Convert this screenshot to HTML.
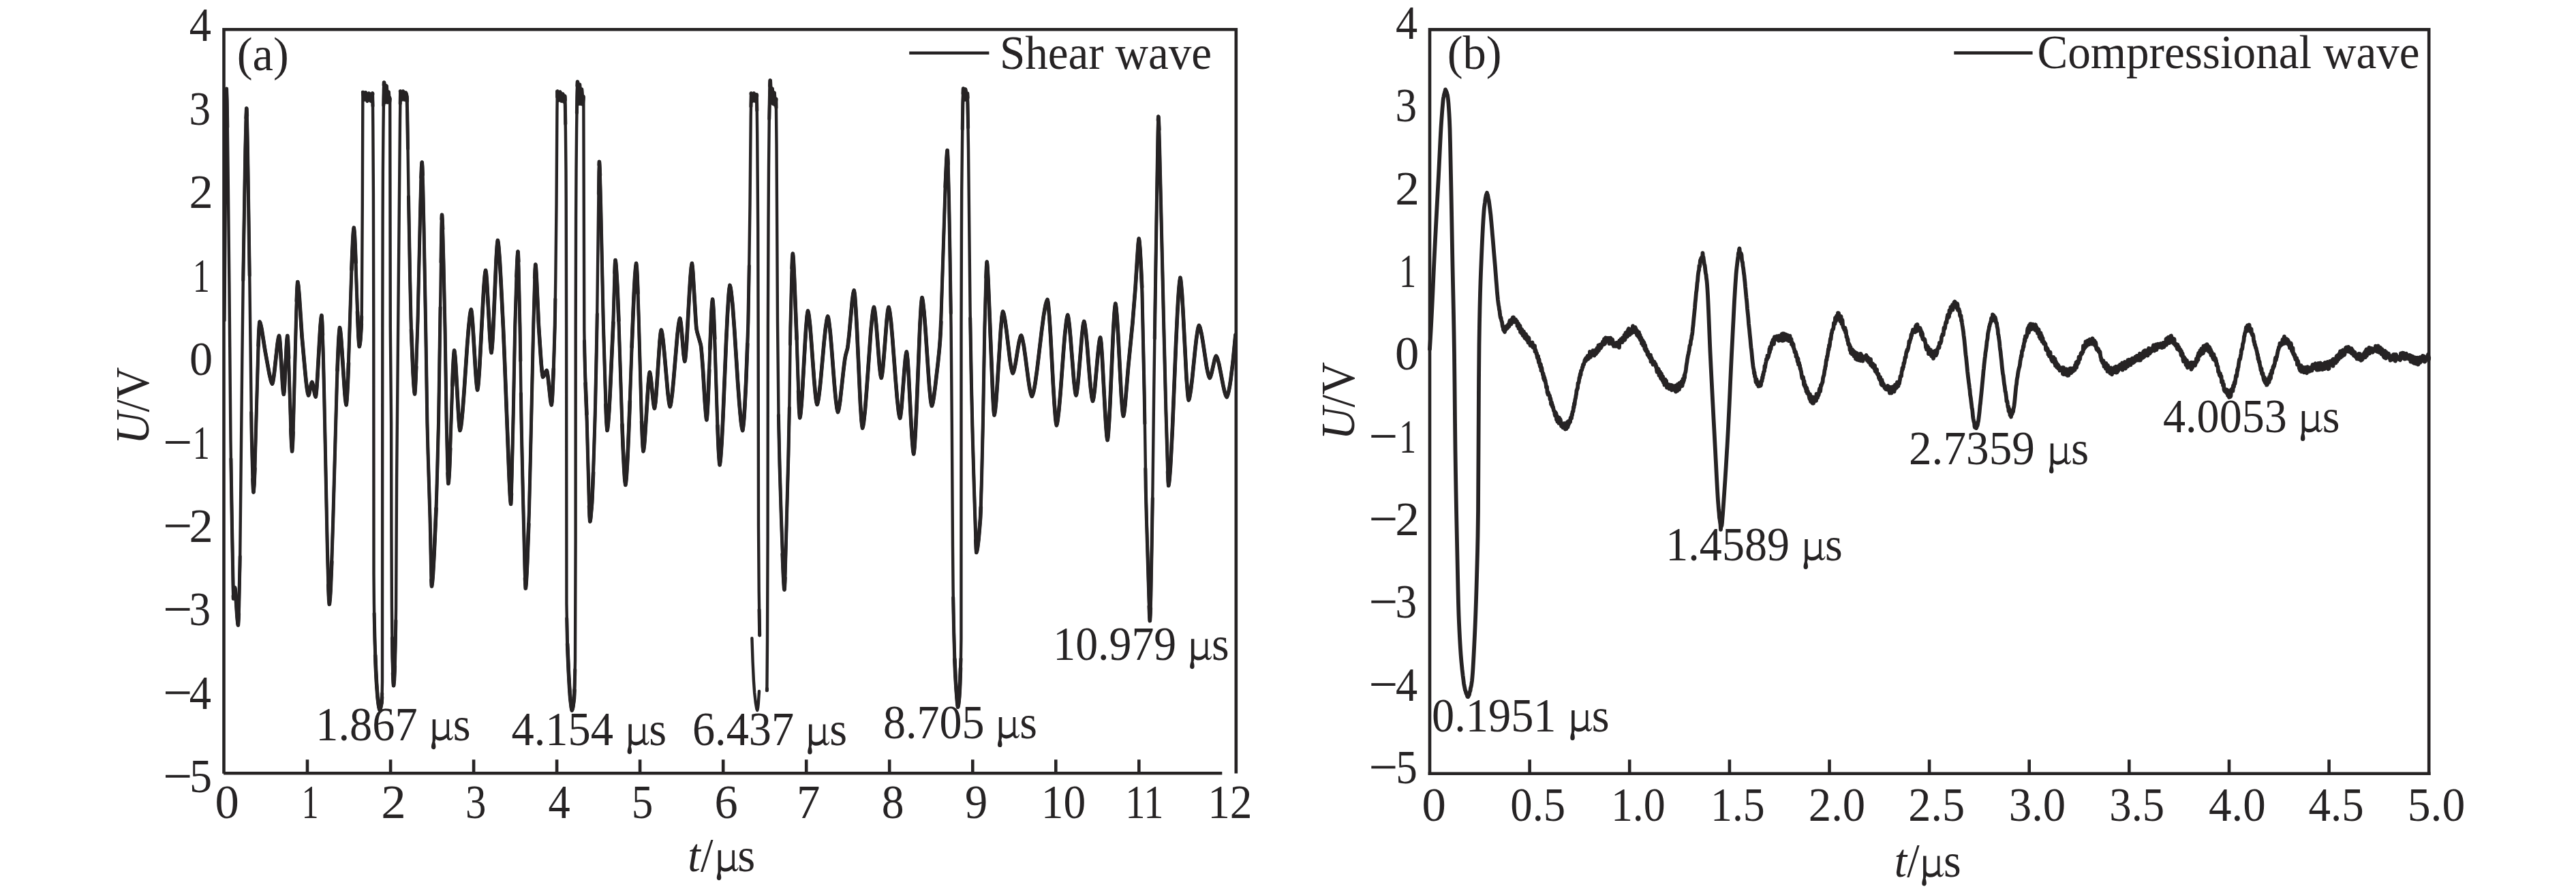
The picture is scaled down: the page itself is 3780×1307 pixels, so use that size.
<!DOCTYPE html>
<html><head><meta charset="utf-8"><title>Waveforms</title>
<style>
html,body{margin:0;padding:0;background:#fff;}
body{width:3780px;height:1307px;overflow:hidden;}
svg{display:block;}
text{font-family:"Liberation Serif",serif;font-size:70.5px;fill:#262324;}
.i{font-style:italic;}
.m{fill:none;}
.ax{stroke:#262324;stroke-width:4.6;fill:none;stroke-linecap:butt;}
.w{stroke:#262324;stroke-width:4.4;fill:none;stroke-linejoin:round;stroke-linecap:round;}
.w2{stroke:#262324;stroke-width:5.8;fill:none;stroke-linejoin:round;stroke-linecap:round;}
</style></head>
<body>
<svg width="3780" height="1307" viewBox="0 0 3780 1307">
<rect width="3780" height="1307" fill="#fff"/>

<path transform="translate(632.9 1085.7)" d="M1.8-30.5L6.3-30.5L6.3-9C6.3-6 8.8-4.4 12.5-4.4C16.5-4.4 20-6.4 22.5-9.4L22.5-30.5L26.1-30.5L26.1-6C26.1-3.6 26.9-2.6 28.2-2.6C29.4-2.6 30.4-3.6 31.2-5.6L32.1-5.2C31.2-1.6 29.3 .4 26.8 .4C24.6 .4 23.2-.9 22.7-3.6C19.8-.8 16.4 .8 12.8 .8C10 .8 7.8 0 6.3-1.6C6.3-.2 5.8 1.2 5.3 2.6C5.9 4.6 6.5 7.4 6.5 9.8C6.5 12.1 5.2 13.5 3.3 13.5C1.3 13.5 0 12.1 0 9.9C0 7.4 .9 4.6 1.5 2.6C1.8 1.2 1.8 0 1.8-2Z" fill="#262324"/>
<path transform="translate(920.6 1092.7)" d="M1.8-30.5L6.3-30.5L6.3-9C6.3-6 8.8-4.4 12.5-4.4C16.5-4.4 20-6.4 22.5-9.4L22.5-30.5L26.1-30.5L26.1-6C26.1-3.6 26.9-2.6 28.2-2.6C29.4-2.6 30.4-3.6 31.2-5.6L32.1-5.2C31.2-1.6 29.3 .4 26.8 .4C24.6 .4 23.2-.9 22.7-3.6C19.8-.8 16.4 .8 12.8 .8C10 .8 7.8 0 6.3-1.6C6.3-.2 5.8 1.2 5.3 2.6C5.9 4.6 6.5 7.4 6.5 9.8C6.5 12.1 5.2 13.5 3.3 13.5C1.3 13.5 0 12.1 0 9.9C0 7.4 .9 4.6 1.5 2.6C1.8 1.2 1.8 0 1.8-2Z" fill="#262324"/>
<path transform="translate(1185.2 1093.0)" d="M1.8-30.5L6.3-30.5L6.3-9C6.3-6 8.8-4.4 12.5-4.4C16.5-4.4 20-6.4 22.5-9.4L22.5-30.5L26.1-30.5L26.1-6C26.1-3.6 26.9-2.6 28.2-2.6C29.4-2.6 30.4-3.6 31.2-5.6L32.1-5.2C31.2-1.6 29.3 .4 26.8 .4C24.6 .4 23.2-.9 22.7-3.6C19.8-.8 16.4 .8 12.8 .8C10 .8 7.8 0 6.3-1.6C6.3-.2 5.8 1.2 5.3 2.6C5.9 4.6 6.5 7.4 6.5 9.8C6.5 12.1 5.2 13.5 3.3 13.5C1.3 13.5 0 12.1 0 9.9C0 7.4 .9 4.6 1.5 2.6C1.8 1.2 1.8 0 1.8-2Z" fill="#262324"/>
<path transform="translate(1464.0 1082.6)" d="M1.8-30.5L6.3-30.5L6.3-9C6.3-6 8.8-4.4 12.5-4.4C16.5-4.4 20-6.4 22.5-9.4L22.5-30.5L26.1-30.5L26.1-6C26.1-3.6 26.9-2.6 28.2-2.6C29.4-2.6 30.4-3.6 31.2-5.6L32.1-5.2C31.2-1.6 29.3 .4 26.8 .4C24.6 .4 23.2-.9 22.7-3.6C19.8-.8 16.4 .8 12.8 .8C10 .8 7.8 0 6.3-1.6C6.3-.2 5.8 1.2 5.3 2.6C5.9 4.6 6.5 7.4 6.5 9.8C6.5 12.1 5.2 13.5 3.3 13.5C1.3 13.5 0 12.1 0 9.9C0 7.4 .9 4.6 1.5 2.6C1.8 1.2 1.8 0 1.8-2Z" fill="#262324"/>
<path transform="translate(1746.1 967.8)" d="M1.8-30.5L6.3-30.5L6.3-9C6.3-6 8.8-4.4 12.5-4.4C16.5-4.4 20-6.4 22.5-9.4L22.5-30.5L26.1-30.5L26.1-6C26.1-3.6 26.9-2.6 28.2-2.6C29.4-2.6 30.4-3.6 31.2-5.6L32.1-5.2C31.2-1.6 29.3 .4 26.8 .4C24.6 .4 23.2-.9 22.7-3.6C19.8-.8 16.4 .8 12.8 .8C10 .8 7.8 0 6.3-1.6C6.3-.2 5.8 1.2 5.3 2.6C5.9 4.6 6.5 7.4 6.5 9.8C6.5 12.1 5.2 13.5 3.3 13.5C1.3 13.5 0 12.1 0 9.9C0 7.4 .9 4.6 1.5 2.6C1.8 1.2 1.8 0 1.8-2Z" fill="#262324"/>
<path transform="translate(2304.3 1072.5)" d="M1.8-30.5L6.3-30.5L6.3-9C6.3-6 8.8-4.4 12.5-4.4C16.5-4.4 20-6.4 22.5-9.4L22.5-30.5L26.1-30.5L26.1-6C26.1-3.6 26.9-2.6 28.2-2.6C29.4-2.6 30.4-3.6 31.2-5.6L32.1-5.2C31.2-1.6 29.3 .4 26.8 .4C24.6 .4 23.2-.9 22.7-3.6C19.8-.8 16.4 .8 12.8 .8C10 .8 7.8 0 6.3-1.6C6.3-.2 5.8 1.2 5.3 2.6C5.9 4.6 6.5 7.4 6.5 9.8C6.5 12.1 5.2 13.5 3.3 13.5C1.3 13.5 0 12.1 0 9.9C0 7.4 .9 4.6 1.5 2.6C1.8 1.2 1.8 0 1.8-2Z" fill="#262324"/>
<path transform="translate(2646.5 821.5)" d="M1.8-30.5L6.3-30.5L6.3-9C6.3-6 8.8-4.4 12.5-4.4C16.5-4.4 20-6.4 22.5-9.4L22.5-30.5L26.1-30.5L26.1-6C26.1-3.6 26.9-2.6 28.2-2.6C29.4-2.6 30.4-3.6 31.2-5.6L32.1-5.2C31.2-1.6 29.3 .4 26.8 .4C24.6 .4 23.2-.9 22.7-3.6C19.8-.8 16.4 .8 12.8 .8C10 .8 7.8 0 6.3-1.6C6.3-.2 5.8 1.2 5.3 2.6C5.9 4.6 6.5 7.4 6.5 9.8C6.5 12.1 5.2 13.5 3.3 13.5C1.3 13.5 0 12.1 0 9.9C0 7.4 .9 4.6 1.5 2.6C1.8 1.2 1.8 0 1.8-2Z" fill="#262324"/>
<path transform="translate(3007.0 680.9)" d="M1.8-30.5L6.3-30.5L6.3-9C6.3-6 8.8-4.4 12.5-4.4C16.5-4.4 20-6.4 22.5-9.4L22.5-30.5L26.1-30.5L26.1-6C26.1-3.6 26.9-2.6 28.2-2.6C29.4-2.6 30.4-3.6 31.2-5.6L32.1-5.2C31.2-1.6 29.3 .4 26.8 .4C24.6 .4 23.2-.9 22.7-3.6C19.8-.8 16.4 .8 12.8 .8C10 .8 7.8 0 6.3-1.6C6.3-.2 5.8 1.2 5.3 2.6C5.9 4.6 6.5 7.4 6.5 9.8C6.5 12.1 5.2 13.5 3.3 13.5C1.3 13.5 0 12.1 0 9.9C0 7.4 .9 4.6 1.5 2.6C1.8 1.2 1.8 0 1.8-2Z" fill="#262324"/>
<path transform="translate(3375.9 633.5)" d="M1.8-30.5L6.3-30.5L6.3-9C6.3-6 8.8-4.4 12.5-4.4C16.5-4.4 20-6.4 22.5-9.4L22.5-30.5L26.1-30.5L26.1-6C26.1-3.6 26.9-2.6 28.2-2.6C29.4-2.6 30.4-3.6 31.2-5.6L32.1-5.2C31.2-1.6 29.3 .4 26.8 .4C24.6 .4 23.2-.9 22.7-3.6C19.8-.8 16.4 .8 12.8 .8C10 .8 7.8 0 6.3-1.6C6.3-.2 5.8 1.2 5.3 2.6C5.9 4.6 6.5 7.4 6.5 9.8C6.5 12.1 5.2 13.5 3.3 13.5C1.3 13.5 0 12.1 0 9.9C0 7.4 .9 4.6 1.5 2.6C1.8 1.2 1.8 0 1.8-2Z" fill="#262324"/>
<path transform="translate(1051.8 1277.8)" d="M1.8-30.5L6.3-30.5L6.3-9C6.3-6 8.8-4.4 12.5-4.4C16.5-4.4 20-6.4 22.5-9.4L22.5-30.5L26.1-30.5L26.1-6C26.1-3.6 26.9-2.6 28.2-2.6C29.4-2.6 30.4-3.6 31.2-5.6L32.1-5.2C31.2-1.6 29.3 .4 26.8 .4C24.6 .4 23.2-.9 22.7-3.6C19.8-.8 16.4 .8 12.8 .8C10 .8 7.8 0 6.3-1.6C6.3-.2 5.8 1.2 5.3 2.6C5.9 4.6 6.5 7.4 6.5 9.8C6.5 12.1 5.2 13.5 3.3 13.5C1.3 13.5 0 12.1 0 9.9C0 7.4 .9 4.6 1.5 2.6C1.8 1.2 1.8 0 1.8-2Z" fill="#262324"/>
<path transform="translate(2820.3 1286.0)" d="M1.8-30.5L6.3-30.5L6.3-9C6.3-6 8.8-4.4 12.5-4.4C16.5-4.4 20-6.4 22.5-9.4L22.5-30.5L26.1-30.5L26.1-6C26.1-3.6 26.9-2.6 28.2-2.6C29.4-2.6 30.4-3.6 31.2-5.6L32.1-5.2C31.2-1.6 29.3 .4 26.8 .4C24.6 .4 23.2-.9 22.7-3.6C19.8-.8 16.4 .8 12.8 .8C10 .8 7.8 0 6.3-1.6C6.3-.2 5.8 1.2 5.3 2.6C5.9 4.6 6.5 7.4 6.5 9.8C6.5 12.1 5.2 13.5 3.3 13.5C1.3 13.5 0 12.1 0 9.9C0 7.4 .9 4.6 1.5 2.6C1.8 1.2 1.8 0 1.8-2Z" fill="#262324"/>
<g id="left">
<path class="ax" d="M328.5 1134.7V43.3H1813.8V1134.6"/>
<path class="ax" d="M328.1 1134.3H1793.3"/>
<path class="ax" d="M451.0 1114.2V1134M573.1 1114.2V1134M695.1 1114.2V1134M817.1 1114.2V1134M939.1 1114.2V1134M1061.2 1114.2V1134M1183.2 1114.2V1134M1305.2 1114.2V1134M1427.3 1114.2V1134M1549.3 1114.2V1134M1671.3 1114.2V1134"/>
<path class="ax" d="M1334.2 77.8H1451.4"/>
<rect x="243" y="647.0" width="35.5" height="3.9" fill="#262324"/>
<rect x="2012.3" y="638.1" width="35.2" height="3.9" fill="#262324"/>
<rect x="243" y="769.5" width="35.5" height="3.9" fill="#262324"/>
<rect x="2012.3" y="759.4" width="35.2" height="3.9" fill="#262324"/>
<rect x="243" y="891.9" width="35.5" height="3.9" fill="#262324"/>
<rect x="2012.3" y="880.8" width="35.2" height="3.9" fill="#262324"/>
<rect x="243" y="1014.3" width="35.5" height="3.9" fill="#262324"/>
<rect x="2012.3" y="1002.1" width="35.2" height="3.9" fill="#262324"/>
<rect x="243" y="1136.8" width="35.5" height="3.9" fill="#262324"/>
<rect x="2012.3" y="1123.5" width="35.2" height="3.9" fill="#262324"/>
<text transform="translate(218.2 652) rotate(-90)" textLength="113.5" lengthAdjust="spacingAndGlyphs"><tspan class="i">U</tspan>/V</text>
<text transform="translate(1987.3 645.5) rotate(-90)" textLength="114.5" lengthAdjust="spacingAndGlyphs"><tspan class="i">U</tspan>/V</text>
<text id="a" x="347.71" y="103.2" textLength="76.08" lengthAdjust="spacingAndGlyphs">(a)</text>
<text id="shear" x="1466.89" y="100.6" textLength="311.15" lengthAdjust="spacingAndGlyphs">Shear wave</text>
<text id="t1" x="463.28" y="1085.7" textLength="227.29" lengthAdjust="spacingAndGlyphs">1.867 <tspan class="m">μ</tspan>s</text>
<text id="t2" x="750.48" y="1092.7" textLength="227.55" lengthAdjust="spacingAndGlyphs">4.154 <tspan class="m">μ</tspan>s</text>
<text id="t3" x="1015.94" y="1093.0" textLength="227.10" lengthAdjust="spacingAndGlyphs">6.437 <tspan class="m">μ</tspan>s</text>
<text id="t4" x="1295.94" y="1082.6" textLength="226.10" lengthAdjust="spacingAndGlyphs">8.705 <tspan class="m">μ</tspan>s</text>
<text id="t5" x="1545.31" y="967.8" textLength="258.30" lengthAdjust="spacingAndGlyphs">10.979 <tspan class="m">μ</tspan>s</text>
<text id="b" x="2123.73" y="101.3" textLength="80.00" lengthAdjust="spacingAndGlyphs">(b)</text>
<text id="compr" x="2989.47" y="99.8" textLength="561.09" lengthAdjust="spacingAndGlyphs">Compressional wave</text>
<text id="r1" x="2100.96" y="1072.5" textLength="260.62" lengthAdjust="spacingAndGlyphs">0.1951 <tspan class="m">μ</tspan>s</text>
<text id="r2" x="2444.33" y="821.5" textLength="259.29" lengthAdjust="spacingAndGlyphs">1.4589 <tspan class="m">μ</tspan>s</text>
<text id="r3" x="2800.94" y="680.9" textLength="264.13" lengthAdjust="spacingAndGlyphs">2.7359 <tspan class="m">μ</tspan>s</text>
<text id="r4" x="3173.99" y="633.5" textLength="259.57" lengthAdjust="spacingAndGlyphs">4.0053 <tspan class="m">μ</tspan>s</text>
<text id="tl" x="1009.36" y="1277.8" textLength="98.76" lengthAdjust="spacingAndGlyphs"><tspan class="i">t</tspan>/<tspan class="m">μ</tspan>s</text>
<text id="tr" x="2779.85" y="1286.0" textLength="97.82" lengthAdjust="spacingAndGlyphs"><tspan class="i">t</tspan>/<tspan class="m">μ</tspan>s</text>
<text id="xl0" x="315.58" y="1199.5" textLength="35.37" lengthAdjust="spacingAndGlyphs">0</text>
<text id="xl1" x="442.79" y="1199.5" textLength="24.79" lengthAdjust="spacingAndGlyphs">1</text>
<text id="xl2" x="559.37" y="1199.5" textLength="36.54" lengthAdjust="spacingAndGlyphs">2</text>
<text id="xl3" x="683.06" y="1199.5" textLength="30.38" lengthAdjust="spacingAndGlyphs">3</text>
<text id="xl4" x="804.38" y="1199.5" textLength="32.20" lengthAdjust="spacingAndGlyphs">4</text>
<text id="xl5" x="926.87" y="1199.5" textLength="31.55" lengthAdjust="spacingAndGlyphs">5</text>
<text id="xl6" x="1048.61" y="1199.5" textLength="34.18" lengthAdjust="spacingAndGlyphs">6</text>
<text id="xl7" x="1169.07" y="1199.5" textLength="34.34" lengthAdjust="spacingAndGlyphs">7</text>
<text id="xl8" x="1293.82" y="1199.5" textLength="32.85" lengthAdjust="spacingAndGlyphs">8</text>
<text id="xl9" x="1416.12" y="1199.5" textLength="33.22" lengthAdjust="spacingAndGlyphs">9</text>
<text id="xl10" x="1527.80" y="1199.5" textLength="65.55" lengthAdjust="spacingAndGlyphs">10</text>
<text id="xl11" x="1651.22" y="1199.5" textLength="56.40" lengthAdjust="spacingAndGlyphs">11</text>
<text id="xl12" x="1772.19" y="1199.5" textLength="65.34" lengthAdjust="spacingAndGlyphs">12</text>
<text id="xr0" x="2086.49" y="1204.0" textLength="35.39" lengthAdjust="spacingAndGlyphs">0</text>
<text id="xr1" x="2216.32" y="1204.0" textLength="80.86" lengthAdjust="spacingAndGlyphs">0.5</text>
<text id="xr2" x="2363.89" y="1204.0" textLength="79.92" lengthAdjust="spacingAndGlyphs">1.0</text>
<text id="xr3" x="2509.97" y="1204.0" textLength="79.78" lengthAdjust="spacingAndGlyphs">1.5</text>
<text id="xr4" x="2653.77" y="1204.0" textLength="83.45" lengthAdjust="spacingAndGlyphs">2.0</text>
<text id="xr5" x="2800.28" y="1204.0" textLength="82.91" lengthAdjust="spacingAndGlyphs">2.5</text>
<text id="xr6" x="2947.75" y="1204.0" textLength="83.46" lengthAdjust="spacingAndGlyphs">3.0</text>
<text id="xr7" x="3095.31" y="1204.0" textLength="80.87" lengthAdjust="spacingAndGlyphs">3.5</text>
<text id="xr8" x="3240.95" y="1204.0" textLength="83.71" lengthAdjust="spacingAndGlyphs">4.0</text>
<text id="xr9" x="3387.44" y="1204.0" textLength="81.19" lengthAdjust="spacingAndGlyphs">4.5</text>
<text id="xr10" x="3532.64" y="1204.0" textLength="84.62" lengthAdjust="spacingAndGlyphs">5.0</text>
<text id="yl4" x="277.85" y="60.2" textLength="32.23" lengthAdjust="spacingAndGlyphs">4</text>
<text id="yr4" x="2047.92" y="56.8" textLength="32.11" lengthAdjust="spacingAndGlyphs">4</text>
<text id="yl3" x="277.49" y="182.7" textLength="31.55" lengthAdjust="spacingAndGlyphs">3</text>
<text id="yr3" x="2047.39" y="178.1" textLength="31.55" lengthAdjust="spacingAndGlyphs">3</text>
<text id="yl2" x="277.38" y="305.1" textLength="35.28" lengthAdjust="spacingAndGlyphs">2</text>
<text id="yr2" x="2047.22" y="299.5" textLength="35.65" lengthAdjust="spacingAndGlyphs">2</text>
<text id="yl1" x="283.05" y="427.6" textLength="24.79" lengthAdjust="spacingAndGlyphs">1</text>
<text id="yr1" x="2053.33" y="420.8" textLength="24.79" lengthAdjust="spacingAndGlyphs">1</text>
<text id="yl0" x="278.08" y="550.0" textLength="34.19" lengthAdjust="spacingAndGlyphs">0</text>
<text id="yr0" x="2047.09" y="542.2" textLength="35.37" lengthAdjust="spacingAndGlyphs">0</text>
<text id="yl-1" x="283.05" y="672.5" textLength="24.79" lengthAdjust="spacingAndGlyphs">1</text>
<text id="yr-1" x="2053.33" y="663.5" textLength="24.79" lengthAdjust="spacingAndGlyphs">1</text>
<text id="yl-2" x="277.38" y="794.9" textLength="35.28" lengthAdjust="spacingAndGlyphs">2</text>
<text id="yr-2" x="2047.22" y="784.9" textLength="35.65" lengthAdjust="spacingAndGlyphs">2</text>
<text id="yl-3" x="277.49" y="917.4" textLength="31.55" lengthAdjust="spacingAndGlyphs">3</text>
<text id="yr-3" x="2047.39" y="906.2" textLength="31.55" lengthAdjust="spacingAndGlyphs">3</text>
<text id="yl-4" x="277.85" y="1039.8" textLength="32.23" lengthAdjust="spacingAndGlyphs">4</text>
<text id="yr-4" x="2047.92" y="1027.6" textLength="32.11" lengthAdjust="spacingAndGlyphs">4</text>
<text id="yl-5" x="277.95" y="1162.2" textLength="33.12" lengthAdjust="spacingAndGlyphs">5</text>
<text id="yr-5" x="2048.31" y="1148.9" textLength="31.55" lengthAdjust="spacingAndGlyphs">5</text>
<path class="w" style="stroke-width:4.4" d="M329.5 470.0L331.3 216.7L332.1 150.5L332.5 132.0L332.6 130.0L332.7 132.6L333.6 170.6L334.6 250.1L336.4 415.6L338.5 647.0L339.9 739.3L342.2 867.2L342.6 878.0L343.1 875.4L344.3 863.0L344.6 862.0L345.0 863.9L346.0 874.0L348.4 909.3L349.0 915.5L349.4 917.0L349.5 916.2L350.0 907.6L350.6 890.8L352.1 828.4L355.3 528.0L356.9 400.1L359.9 218.3L360.9 177.8L361.8 159.0L362.3 168.4L362.8 186.0L364.0 250.5L366.4 415.7L369.2 637.7L370.8 699.6L371.5 715.1L372.0 722.0L372.9 711.4L373.9 688.5L378.8 515.4L379.9 485.6L380.5 476.8L381.0 472.0L381.7 473.2L382.4 475.2L383.9 482.1L389.1 515.0L395.6 550.6L397.7 559.2L398.6 561.7L399.5 563.0L400.1 561.7L400.7 559.1L402.0 550.7L406.1 512.7L407.5 501.9L408.6 495.3L409.2 493.3L409.6 492.6L410.4 497.4L411.3 507.6L414.9 566.9L415.6 574.8L416.3 578.5L416.9 574.8L417.5 567.0L420.4 507.3L421.2 497.1L421.8 492.5L422.5 499.7L423.2 515.3L426.9 632.3L427.8 652.8L428.6 662.0L429.4 651.1L430.3 628.4L434.8 456.7L435.8 426.9L436.3 418.1L436.8 413.5L437.7 418.3L438.7 428.4L443.1 494.3L447.9 547.3L449.3 560.6L450.5 570.3L451.6 576.7L452.6 580.0L453.1 579.2L453.7 577.4L456.5 563.9L457.2 561.6L457.8 560.5L458.4 561.6L459.1 564.1L461.5 576.4L462.4 580.2L463.2 582.0L463.7 580.0L464.6 572.0L465.6 558.0L469.9 480.4L471.0 468.4L471.4 464.7L471.9 462.7L472.5 469.2L473.0 480.7L474.3 519.3L475.8 583.6L480.5 812.7L482.0 863.6L482.6 878.3L483.3 886.5L484.1 879.6L484.9 867.6L486.7 826.3L488.7 764.5L494.3 563.0L496.1 515.1L497.7 487.6L498.5 480.5L499.2 483.7L500.0 490.0L501.6 509.5L505.9 577.2L507.4 590.8L508.1 594.0L508.4 592.5L509.0 586.3L509.6 576.5L511.0 545.4L515.4 410.2L516.9 370.6L518.1 345.6L518.7 338.1L519.3 334.0L519.8 337.3L520.2 343.1L521.3 363.6L524.7 462.0L525.9 491.8L526.6 502.4L527.2 508.1L527.3 508.5L527.6 507.5L528.2 504.2L529.1 495.2L530.0 481.7L530.6 470.0L530.8 457.6L531.8 300.0L532.4 135.0L532.8 136.5L534.0 144.1L534.5 146.0L535.0 144.3L536.1 137.1L536.4 136.1L536.5 136.0L536.6 136.2L537.2 138.4L538.4 146.2L539.0 148.0L539.5 146.5L540.8 139.1L541.4 137.1L541.7 137.3L542.0 138.4L543.4 146.1L544.0 148.0L544.5 146.6L546.0 138.9L546.6 137.0L547.0 152.9L547.3 185.4L547.9 283.2L548.3 480.0L548.5 842.0L548.9 886.1L549.3 912.9L550.1 945.3L551.1 972.2L552.2 996.3L553.4 1015.0L554.6 1028.4L556.0 1037.7L556.6 1040.2L557.1 1041.3L557.8 1040.3L558.6 1038.2L560.0 1031.0L560.6 1020.0L561.0 1000.0L561.3 480.0L561.6 323.0L561.9 250.0L562.4 194.6L563.0 144.1L563.6 121.0L564.0 124.9L564.9 145.0L565.3 150.0L565.7 146.8L566.6 130.1L567.0 126.0L567.3 129.3L568.2 145.8L568.6 150.0L570.1 135.0L571.3 149.9L572.2 143.0L572.8 480.0L574.1 620.0L574.4 780.0L574.9 888.2L575.3 928.3L575.9 964.6L576.9 994.6L577.6 1005.8L578.0 1002.9L578.5 995.9L579.5 972.7L580.4 937.0L581.1 891.9L582.1 701.9L587.0 176.2L587.6 134.0L588.0 135.6L589.0 143.9L589.5 146.0L589.9 144.4L591.0 136.1L591.5 134.0L591.9 135.7L593.0 143.8L593.5 145.9L593.9 144.8L594.9 137.7L595.3 136.0L595.8 136.8L596.3 138.7L597.0 142.0L597.1 143.5L598.0 185.0L600.2 330.8L602.9 466.8L604.3 505.6L606.1 547.1L607.4 568.2L608.0 574.5L608.6 578.0L609.3 570.2L610.2 553.1L613.0 471.0L616.7 307.8L617.8 265.5L618.9 241.4L619.2 238.0L619.5 242.0L620.7 272.4L622.0 332.2L624.8 486.8L626.9 620.0L628.1 666.0L631.0 759.3L632.7 839.4L633.1 853.4L633.5 860.0L634.3 855.0L635.2 845.1L637.2 809.7L639.7 755.3L641.8 690.1L643.7 607.3L647.5 356.5L648.0 327.6L648.5 315.0L649.0 321.7L649.6 334.0L650.8 377.2L653.1 485.3L655.2 620.0L656.8 686.9L657.4 702.4L657.9 709.5L658.8 701.1L659.8 682.8L664.4 548.3L665.5 525.2L666.1 518.2L666.6 514.2L666.9 515.3L667.4 518.6L668.4 529.6L672.9 610.9L674.0 625.0L674.5 629.3L675.0 631.5L675.8 628.7L676.7 623.8L678.5 607.5L680.6 580.5L685.2 512.1L687.2 485.1L689.4 463.8L690.3 457.5L691.3 454.1L691.7 455.4L692.2 458.6L693.2 469.5L694.5 487.6L698.3 551.4L699.5 565.6L700.1 569.7L700.6 572.0L701.2 569.2L701.8 564.4L703.1 548.4L704.7 521.7L709.6 426.9L711.2 405.9L711.9 399.8L712.6 396.5L713.1 398.8L713.6 403.1L714.7 417.3L718.3 484.2L719.5 503.9L720.2 511.5L720.8 516.1L721.1 517.5L721.5 515.1L722.5 504.2L723.6 484.7L728.3 376.7L729.4 360.3L729.9 355.2L730.4 352.5L731.1 356.1L731.8 362.3L733.4 383.0L734.9 410.8L738.4 480.0L740.4 526.3L747.5 707.4L748.6 729.6L749.1 736.1L749.6 739.5L750.4 725.7L751.3 692.4L753.2 607.1L755.7 480.0L758.3 397.1L759.2 377.8L760.0 369.0L760.6 378.0L761.2 396.5L763.0 480.0L765.0 615.4L766.5 685.3L770.1 833.9L770.7 854.2L771.3 863.0L772.2 854.4L773.3 835.3L776.4 751.0L779.6 620.0L782.5 486.2L784.5 415.3L785.5 390.4L785.8 388.0L786.0 388.9L786.8 398.4L790.4 477.4L793.7 526.3L795.4 546.1L796.0 550.6L796.6 553.0L797.2 552.5L798.0 551.4L800.4 546.0L801.3 544.3L802.2 543.5L802.6 544.6L803.4 548.0L804.2 554.0L807.8 586.9L808.7 592.4L809.3 593.9L809.4 593.5L810.0 588.8L810.5 581.2L811.7 556.0L813.3 511.3L814.4 468.8L815.3 408.1L816.5 300.0L817.4 164.9L817.8 134.0L818.2 135.7L819.3 144.7L819.8 147.0L820.2 145.4L821.3 137.1L821.8 135.0L822.2 136.7L823.3 145.7L823.8 148.0L824.2 146.6L825.3 139.9L825.8 138.0L826.1 139.4L827.1 147.1L827.5 149.0L828.8 141.0L829.3 157.1L829.9 192.5L830.5 250.0L830.7 290.4L831.1 480.0L831.4 885.8L832.4 938.2L834.7 991.6L835.7 1010.7L836.8 1025.0L838.3 1037.6L838.8 1040.6L839.3 1042.0L840.0 1040.3L840.8 1036.9L842.4 1024.7L843.3 1003.7L844.0 968.0L844.6 792.2L844.7 480.0L845.1 320.9L845.5 250.0L846.1 189.0L846.8 141.5L847.5 120.0L849.0 152.0L850.5 124.0L852.0 152.0L853.5 131.0L855.0 152.9L855.3 151.5L856.3 141.0L857.3 484.0L857.9 521.1L858.7 550.5L861.2 618.0L864.5 739.1L865.2 756.6L865.8 765.0L866.6 761.4L867.5 752.7L868.5 740.0L869.3 725.7L871.0 679.4L873.3 605.7L876.0 477.6L878.4 284.4L878.9 252.1L879.4 237.3L880.3 252.4L881.3 285.0L885.4 477.2L888.7 588.1L889.7 612.5L890.5 627.0L891.0 631.5L891.7 628.0L892.3 622.1L893.6 605.2L895.1 579.7L899.7 478.5L902.0 400.5L902.5 387.5L903.0 381.5L903.7 386.7L904.5 395.8L906.1 425.7L908.1 476.1L912.3 604.1L914.1 654.2L916.1 693.7L916.9 705.1L917.8 711.5L918.6 706.4L919.4 697.5L921.1 667.8L923.2 618.3L927.7 492.3L929.7 443.0L931.7 403.9L932.7 392.4L933.6 386.3L934.1 390.7L934.7 398.3L935.8 423.4L937.2 465.0L941.4 614.3L942.8 647.1L943.4 656.7L944.0 662.0L944.5 660.0L945.0 656.3L946.2 644.0L950.7 571.2L951.7 557.8L952.7 549.5L953.4 546.0L953.9 547.4L954.4 550.1L955.6 559.3L958.9 591.4L959.9 597.8L960.4 599.0L960.7 598.2L961.8 591.1L963.0 577.3L966.9 517.6L968.1 500.2L969.3 489.2L969.8 485.8L970.3 484.0L970.9 485.8L971.6 488.8L973.0 499.1L974.7 516.2L980.0 576.9L981.7 590.4L982.5 594.4L983.2 596.5L984.0 594.3L984.7 590.6L986.4 577.9L988.3 558.4L993.9 491.7L995.7 476.3L996.6 471.3L997.3 468.1L997.8 467.0L998.0 467.5L999.0 473.3L1000.1 483.7L1003.2 520.6L1004.3 528.2L1004.8 530.0L1005.0 529.3L1005.6 526.1L1006.2 520.7L1007.5 503.5L1011.7 428.2L1013.1 406.4L1014.3 392.7L1014.9 388.6L1015.4 386.3L1016.0 390.3L1016.8 399.5L1020.8 467.2L1021.7 479.6L1022.0 482.3L1023.0 487.4L1027.9 504.2L1028.5 507.0L1029.0 510.6L1030.0 521.9L1031.6 543.7L1034.3 589.3L1035.9 609.5L1036.4 614.0L1036.9 616.0L1037.4 612.6L1037.9 606.5L1039.1 585.4L1042.7 488.5L1043.9 460.4L1045.0 443.0L1045.6 439.0L1045.9 440.6L1046.4 446.4L1047.0 455.6L1048.3 484.5L1052.4 610.7L1053.8 647.5L1055.0 671.0L1055.6 678.0L1056.1 682.0L1056.8 677.9L1057.6 670.7L1059.2 646.7L1061.2 606.7L1065.4 504.2L1067.3 464.0L1069.3 432.5L1070.1 423.5L1071.0 418.4L1072.1 422.4L1073.2 429.8L1074.3 440.4L1075.6 454.8L1077.9 486.9L1083.6 574.4L1085.1 594.9L1086.4 610.3L1088.1 624.2L1088.9 628.6L1089.6 631.3L1089.7 631.4L1090.2 628.9L1091.0 622.2L1092.6 601.5L1094.3 569.7L1096.2 522.8L1097.9 473.5L1098.9 415.7L1100.5 300.0L1101.7 171.7L1102.3 137.9L1102.3 137.0L1102.6 138.1L1103.7 146.2L1104.2 148.0L1104.6 146.5L1105.7 138.9L1106.2 137.0L1106.6 138.5L1107.7 146.1L1108.2 148.0L1108.6 146.8L1109.8 140.6L1110.3 139.0L1110.7 158.2L1111.2 198.0L1112.2 333.6L1112.6 480.0L1113.0 771.2L1113.7 867.2L1114.7 932.0"/>
<path class="w" style="stroke-width:5.0" d="M331.8 165.8L332.6 130.0L333.2 147.8L333.8 186.7M338.9 672.9L340.5 773.3L342.2 864.3L342.6 877.8L343.1 875.5L344.3 863.1L344.6 862.0L344.9 863.3L345.9 873.4L348.3 908.6L348.9 914.4L349.4 917.0L350.0 908.1L350.7 888.0L352.2 816.1M356.8 411.3L359.9 220.3L360.9 178.4L361.8 159.0L362.5 176.6L363.4 215.5L366.2 404.2M368.7 604.8L369.4 647.0L370.4 685.0L371.3 710.9L372.0 722.0L372.9 711.4L373.9 688.5L378.8 515.4L379.9 485.6L380.5 476.8L381.0 472.0L381.7 473.2L382.4 475.2L383.9 482.1L389.1 515.0L395.6 550.6L397.7 559.2L398.6 561.7L399.5 563.0L400.1 561.7L400.7 559.1L402.0 550.7L406.1 512.7L407.5 501.9L408.6 495.3L409.2 493.3L409.6 492.6L410.4 497.4L411.3 507.6L414.9 566.9L415.6 574.8L416.3 578.5L416.9 574.8L417.5 567.0L420.4 507.3L421.2 497.1L421.8 492.5L422.5 499.7L423.2 515.3L426.9 632.3L427.8 652.8L428.6 662.0L429.4 651.1L430.3 628.4L434.8 456.7L435.8 426.9L436.3 418.1L436.8 413.5L437.7 418.3L438.7 428.4L443.1 494.3L447.9 547.3L449.3 560.6L450.5 570.3L451.6 576.7L452.6 580.0L453.1 579.2L453.7 577.4L456.5 563.9L457.2 561.6L457.8 560.5L458.4 561.6L459.1 564.1L461.5 576.4L462.4 580.2L463.2 582.0L463.7 580.0L464.6 572.0L465.6 558.0L469.9 480.4L471.0 468.4L471.4 464.7L471.9 462.7L472.5 469.2L473.0 480.7L474.3 519.3L475.8 583.6L480.5 812.7L482.0 863.6L482.6 878.3L483.3 886.5L484.1 879.9L484.9 867.9L486.6 828.5L488.6 767.3L494.5 557.5L496.4 509.0L497.2 493.6L498.1 483.7L498.5 480.5L498.8 481.4L499.5 485.3L500.2 492.1L501.6 510.7L505.9 576.9L507.3 590.6L508.1 594.0L508.3 592.6L509.0 586.5L509.6 576.8L511.0 545.9L515.4 410.2L516.9 370.6L518.1 345.6L518.7 338.1L519.3 334.0L520.2 342.5L521.1 360.8L525.0 471.0L525.9 491.5L526.7 503.9L527.3 508.5L528.0 505.5L528.7 499.9L530.0 481.7L530.6 470.0L530.7 464.0M532.5 135.3L534.0 144.3L534.5 146.0L535.0 144.3L536.1 137.1L536.4 136.1L536.5 136.0L536.6 136.2L537.2 138.4L538.4 146.2L539.0 148.0L539.5 146.5L540.8 139.1L541.4 137.1L541.7 137.3L542.0 138.4L543.4 146.1L544.0 148.0L544.5 146.6L546.0 138.9L546.6 137.0L547.0 155.7M549.1 899.7L550.0 939.1L551.2 975.6L552.4 1000.0L554.4 1026.1L554.9 1031.0L556.2 1038.4L556.9 1041.0L557.1 1041.3L557.5 1040.9L558.1 1039.6L558.7 1037.6L560.0 1031.0L560.7 1017.3M562.8 154.7L563.2 132.4L563.6 121.0L564.0 124.9L564.9 145.0L565.3 150.0L565.7 146.8L566.6 130.1L567.0 126.0L567.3 129.3L568.2 145.8L568.6 149.9L568.9 148.2L569.7 137.7L570.1 135.0L571.2 149.8L571.3 150.0L571.5 149.1L571.9 144.5M575.4 935.4L575.9 963.8L576.5 983.5L577.2 1000.6L577.5 1004.8L577.6 1005.8L577.7 1005.5L578.4 996.5L579.4 976.4L580.2 944.2L580.9 910.1M587.2 152.2L587.6 134.0L588.0 135.6L589.0 143.9L589.5 146.0L589.9 144.4L591.0 136.1L591.5 134.0L591.9 135.6L593.0 143.9L593.5 146.0L593.9 144.7L594.9 137.7L595.3 136.0L596.1 137.7L597.0 142.0L597.7 166.1L598.5 218.3M599.5 288.4L601.7 412.8L603.3 479.4L605.1 524.1L606.4 551.6L607.5 569.7L608.1 575.0L608.6 578.0L609.3 570.2L610.2 553.1L613.0 471.0L616.7 307.8L617.8 265.5L618.9 240.9L619.2 238.0L619.6 242.6L620.7 273.8L622.0 333.2L624.8 486.8L626.9 620.0L628.1 666.0L631.0 759.3L632.7 839.4L633.1 853.4L633.5 860.0L634.2 856.0L634.9 848.4L636.6 822.0L639.5 760.0L640.9 718.9L643.6 617.0L646.1 450.7M647.0 384.6L647.8 337.4L648.4 316.2L648.5 315.0L648.6 315.5L649.0 320.9L649.7 339.1L650.9 384.0L653.0 480.0L655.2 620.0L656.8 686.9L657.4 702.4L657.9 709.5L658.8 701.1L659.8 682.8L664.4 548.3L665.5 525.2L666.1 518.2L666.6 514.2L666.9 515.3L667.4 518.6L668.4 529.6L672.9 610.9L674.0 625.0L674.5 629.3L675.0 631.5L675.8 628.7L676.7 623.8L678.5 607.5L680.6 580.5L685.2 512.1L687.2 485.1L689.4 463.8L690.3 457.5L691.3 454.1L691.7 455.4L692.2 458.6L693.2 469.5L694.5 487.6L698.3 551.4L699.5 565.6L700.1 569.7L700.6 572.0L701.2 569.2L701.8 564.4L703.1 548.4L704.7 521.7L709.6 426.9L711.2 405.9L711.9 399.8L712.6 396.5L713.1 398.8L713.6 403.1L714.7 417.3L718.3 484.2L719.5 503.9L720.2 511.5L720.8 516.1L721.1 517.5L721.5 515.1L722.5 504.2L723.6 484.7L728.3 376.7L729.4 360.3L729.9 355.2L730.4 352.5L731.1 356.1L731.8 362.3L733.4 383.0L734.9 410.8L738.4 480.0L740.4 526.3L747.4 707.0L748.5 728.7L749.5 739.1L749.6 739.5L749.8 736.9L750.3 727.8L751.2 694.9L753.2 608.1L755.7 480.0L757.9 407.5L759.3 375.7L759.8 370.2L760.0 369.0L760.1 369.7L760.5 377.5L761.0 392.2L763.0 480.0L763.8 529.4M764.4 577.2L765.2 626.1L767.0 709.2L770.1 836.1L770.8 854.7L771.3 863.0L772.2 854.4L773.3 835.3L776.4 751.7L778.3 675.0L782.6 484.6L784.6 412.7L785.1 397.3L785.7 389.1L785.8 388.0L786.3 391.4L787.1 403.9L790.6 479.4L793.7 526.3L795.3 545.8L796.0 550.4L796.6 553.0L797.2 552.5L798.0 551.4L800.4 545.9L801.4 544.2L802.2 543.5L802.7 544.6L803.4 548.2L804.2 554.2L807.7 586.2L808.5 591.3L809.2 593.9L809.9 589.6L810.6 579.5L812.2 544.5L814.2 480.0L814.9 438.5M817.6 142.3L817.8 134.0L818.2 135.7L819.3 144.7L819.8 147.0L820.2 145.4L821.3 137.1L821.8 135.0L822.2 136.7L823.3 145.7L823.8 148.0L824.2 146.6L825.3 139.9L825.8 138.0L826.1 139.4L827.1 147.1L827.5 149.0L828.8 141.0L829.3 154.4L829.8 181.9M831.7 906.9L832.5 943.1L834.7 992.7L836.5 1021.9L838.4 1038.5L838.9 1040.9L839.3 1042.0L840.1 1040.3L841.2 1034.6L842.4 1025.0L843.1 1008.4L843.8 982.3M846.4 165.8L847.0 134.9L847.5 120.0L849.0 152.0L850.5 124.0L852.0 152.0L853.5 131.0L855.0 152.9L855.3 151.1L856.1 141.8M857.5 500.1L858.6 547.1L861.2 618.0L864.3 734.7L865.1 756.2L865.8 764.9L866.4 762.7L866.9 758.2L868.5 740.0L869.6 718.1L870.8 685.9L872.9 620.0L873.7 589.7L875.2 520.0L876.3 460.4M878.4 284.4L878.9 252.1L879.4 237.3L879.9 244.0L880.4 256.2L881.7 303.6L885.3 473.7L888.8 589.3L889.7 614.2L890.6 628.4L891.0 631.5L891.2 630.9L891.8 626.6L892.5 619.9L893.8 602.6L895.2 576.9L899.7 478.5L902.0 400.5L902.5 387.5L903.0 381.5L903.7 386.7L904.5 395.8L906.1 425.7L908.1 476.1L912.3 604.1L914.1 654.2L916.1 693.7L916.9 705.1L917.8 711.5L918.6 706.4L919.4 697.5L921.1 667.8L923.2 618.3L927.7 492.3L929.7 443.0L931.7 403.9L932.7 392.4L933.6 386.3L934.1 390.7L934.7 398.3L935.8 423.4L937.2 465.0L941.4 614.3L942.8 647.1L943.4 656.7L944.0 662.0L944.5 660.0L945.0 656.3L946.2 644.0L950.7 571.2L951.7 557.8L952.7 549.5L953.4 546.0L953.9 547.4L954.4 550.1L955.6 559.3L958.9 591.4L959.9 597.8L960.4 599.0L960.7 598.2L961.8 591.1L963.0 577.3L966.9 517.6L968.1 500.2L969.3 489.2L969.8 485.8L970.3 484.0L970.9 485.8L971.6 488.8L973.0 499.1L974.7 516.2L980.0 576.9L981.7 590.4L982.5 594.4L983.2 596.5L984.0 594.3L984.7 590.6L986.4 577.9L988.3 558.4L993.9 491.7L995.7 476.3L996.6 471.3L997.3 468.1L997.8 467.0L998.0 467.5L999.0 473.3L1000.1 483.7L1003.2 520.6L1004.3 528.2L1004.8 530.0L1005.0 529.3L1005.6 526.1L1006.2 520.7L1007.5 503.5L1011.7 428.2L1013.1 406.4L1014.3 392.7L1014.9 388.6L1015.4 386.3L1016.0 390.3L1016.8 399.5L1020.8 467.2L1021.7 479.6L1022.0 482.3L1023.0 487.4L1027.9 504.2L1028.5 507.0L1029.0 510.6L1030.0 521.9L1031.6 543.7L1034.3 589.3L1035.9 609.5L1036.4 614.0L1036.9 616.0L1037.4 612.6L1037.9 606.5L1039.1 585.4L1042.7 488.5L1043.9 460.4L1045.0 443.0L1045.6 439.0L1045.9 440.6L1046.4 446.4L1047.0 455.6L1048.3 484.5L1052.4 610.7L1053.8 647.5L1055.0 671.0L1055.6 678.0L1056.1 682.0L1056.8 677.9L1057.6 670.7L1059.2 646.7L1061.2 606.7L1065.4 504.2L1067.3 464.0L1069.3 432.5L1070.1 423.5L1071.0 418.4L1072.1 422.5L1073.2 429.9L1074.4 440.8L1075.6 455.3L1078.0 487.5L1083.4 572.1L1086.1 606.3L1087.4 619.2L1088.7 627.6L1089.7 631.5L1090.3 628.2L1091.7 615.1L1093.1 593.6L1094.5 563.4L1096.1 523.9L1097.8 474.3L1099.3 389.8M1101.9 156.5L1102.3 137.0L1102.7 138.5L1103.7 146.0L1104.2 148.0L1104.6 146.5L1105.7 138.9L1106.2 137.0L1106.6 138.5L1107.7 146.1L1108.2 148.0L1108.6 146.8L1109.8 140.6L1110.3 139.0L1110.8 162.3M1114.0 894.3L1114.7 932.0"/>
<path class="w" style="stroke-width:5.6" d="M342.4 874.3L342.6 878.0L342.8 877.2L344.2 864.1L344.5 862.3L344.6 862.0L344.7 862.3L345.2 865.3L345.8 871.1L348.0 904.7L349.0 915.0L349.4 917.0L349.5 915.8L350.3 900.9M361.1 173.0L361.8 159.0L362.3 169.5M371.0 703.1L371.5 715.9L372.0 722.0L372.9 711.0L373.9 687.3M379.1 506.7L379.8 487.6L380.6 475.6L381.0 472.0L381.9 473.8L383.0 477.7L384.2 483.7L389.0 514.8L395.3 549.2L397.6 558.8L398.6 561.5L399.5 563.0L400.0 561.9L400.5 560.0L401.6 553.5L403.0 542.8L407.1 504.8L408.4 496.4L409.0 493.8L409.6 492.5L410.3 496.2L411.0 504.1L414.6 563.7L415.5 573.9L416.3 578.5L416.9 574.3L417.5 565.7L420.3 510.1L420.9 500.0L421.5 494.2L421.8 492.5L422.4 498.5L423.6 524.9M426.8 629.6L427.8 652.1L428.6 662.0L429.3 653.0L430.1 634.3M435.3 441.2L436.0 424.4L436.6 414.9L436.8 413.5L436.9 413.8L437.8 418.7L439.4 437.3L443.2 494.8L447.5 542.5L449.0 558.3L450.3 569.1L451.5 576.4L452.6 580.0L453.1 579.2L453.7 577.4L456.5 563.9L457.2 561.6L457.8 560.5L458.4 561.7L459.1 564.2L462.2 579.6L463.0 581.8L463.2 582.0L463.4 581.3L464.3 574.6L465.3 561.6L469.3 490.6L470.2 477.1L471.0 468.2L471.7 463.5L471.9 462.7L472.0 463.7L472.7 473.8L473.4 491.0M481.8 858.2L482.7 880.0L483.3 886.5L483.5 885.4L484.3 877.6L485.1 865.0L486.8 824.1M495.0 542.9L496.8 500.1L497.7 487.6L498.5 480.5L499.0 482.4L499.5 485.8L500.6 496.8L505.6 572.3L506.7 585.8L507.8 593.0L508.1 594.0L508.5 591.5L509.4 579.6L510.4 560.6L511.5 532.9M515.9 395.1L517.7 352.6L518.5 340.3L519.3 334.0L519.9 339.1L520.6 348.8L522.1 385.0M524.5 457.5L526.0 493.7L526.7 503.4L527.3 508.5L528.1 505.0L528.9 498.4L530.3 475.5M532.7 135.6L534.0 144.2L534.5 146.0L535.0 144.3L536.1 137.1L536.4 136.1L536.5 136.0L536.6 136.2L537.2 138.4L538.4 146.2L539.0 148.0L539.5 146.5L540.8 139.1L541.4 137.1L541.7 137.3L542.0 138.4L543.4 146.1L544.0 148.0L544.6 146.1L546.1 138.1L546.6 137.0L546.6 137.9M550.7 961.7L551.6 983.8L552.6 1002.8L554.1 1023.3L555.4 1033.9L556.2 1038.4L556.8 1040.7L557.1 1041.3L557.9 1040.2L558.9 1036.7L560.0 1031.0L560.5 1022.9M563.4 124.5L563.6 121.0L563.9 123.3L564.9 145.0L565.3 150.0L565.7 146.8L566.6 130.1L567.0 126.0L567.3 129.3L568.2 145.8L568.6 149.9L568.9 148.2L569.7 137.7L570.1 135.0L571.2 149.6L571.3 150.0L571.5 149.3L571.9 145.3M576.6 987.7L577.2 1001.0L577.6 1005.7L578.4 997.6L579.3 977.6M587.6 134.0L588.0 135.6L589.0 143.9L589.5 146.0L589.9 144.3L591.0 136.2L591.5 134.1L591.9 135.5L593.0 143.9L593.5 146.0L593.9 144.3L595.0 137.0L595.3 136.1L595.5 136.2L596.2 138.1L597.0 142.0L597.3 148.2M603.5 484.1L606.1 547.5L607.2 565.0L608.1 575.4L608.6 578.0L609.2 571.7L610.7 538.2M618.0 260.2L618.6 245.6L619.2 238.0L619.7 244.4L620.2 256.2M633.0 850.7L633.3 858.1L633.5 860.0L633.6 859.7L634.5 853.3L635.5 840.8L637.4 805.5L640.0 746.1M648.2 321.3L648.5 315.2L648.6 316.0L649.6 335.6M657.1 694.4L657.8 708.9L657.9 709.3L658.4 706.2L659.5 689.2L660.7 658.2M663.8 565.3L664.7 541.2L665.6 524.8L666.4 515.1L666.6 514.0L666.9 515.4L667.8 523.0L668.8 536.8L672.2 598.6L673.4 618.1L674.1 625.6L674.7 630.2L675.0 631.5L675.6 629.6L676.5 625.1L677.4 618.3L679.3 597.2L681.2 571.7L685.6 506.4L687.7 479.6L689.6 462.2L690.5 456.9L691.3 454.0L691.8 456.3L692.4 460.4L693.6 474.6L697.4 538.4L698.7 556.7L699.8 567.8L700.3 571.1L700.6 572.0L700.7 571.7L701.4 568.0L702.1 561.8L703.6 540.6L708.5 447.2L710.0 420.4L711.4 404.1L712.0 399.3L712.6 396.5L713.5 401.7L714.4 412.8L719.0 496.4L720.1 510.9L720.6 515.2L721.1 517.5L722.0 510.4L723.1 495.4L724.3 470.5L728.1 381.3L729.3 361.5L729.9 355.7L730.4 352.5L731.1 356.1L731.8 362.3L733.4 383.3L735.0 411.2L738.5 481.7L740.2 521.8L747.0 696.3L748.2 722.1L748.9 733.6L749.6 739.5L750.4 724.5M758.0 405.2L759.0 382.1L759.8 370.2L760.0 369.0L760.2 371.1L760.8 383.3M770.5 848.4L771.3 863.0L771.8 859.4L772.3 852.6L773.7 825.1L775.8 768.8M784.7 407.4L785.3 394.9L785.7 388.4L785.8 388.0L786.0 389.3L786.5 393.9L787.5 411.8L790.5 479.0L794.1 532.2L795.2 544.4L796.2 551.4L796.6 553.0L797.2 552.6L798.2 551.0L801.2 544.4L802.2 543.5L802.6 544.4L803.3 547.9L804.2 553.8L807.7 586.5L808.5 591.6L809.3 594.0L810.0 588.3L810.7 577.8L812.3 541.2M817.9 134.2L818.3 136.6L819.4 145.1L819.8 147.0L820.2 145.4L821.3 137.1L821.8 135.0L822.2 136.7L823.3 145.7L823.8 148.0L824.2 146.7L825.3 139.8L825.8 138.0L826.2 139.6L827.4 148.8L827.5 148.9L827.7 148.1L828.8 141.0L829.1 146.5M832.6 944.7L834.3 984.2L835.6 1008.5L836.8 1025.0L838.4 1038.1L838.9 1040.8L839.3 1042.0L840.0 1040.3L840.8 1037.0L842.4 1025.0L843.0 1012.5M847.2 125.5L847.5 120.0L847.7 121.8L848.6 146.7L849.0 152.0L850.5 124.0L852.0 152.0L853.5 131.0L855.0 152.8L855.3 151.1L856.0 142.9M859.1 562.5L860.9 607.2M864.6 742.6L865.2 757.0L865.7 764.4L865.8 765.0L866.1 764.1L866.7 760.1L868.7 737.0L870.6 693.3M879.2 241.6L879.4 237.3L879.6 239.3L880.4 256.8M888.9 593.8L889.9 618.2L890.9 630.6L891.0 631.5L891.5 629.1L892.5 620.4L893.8 602.6L895.2 576.5L899.9 473.2M902.0 400.0L902.5 387.5L903.0 381.5L903.6 385.1L904.1 390.8L905.9 420.0L907.9 469.9M912.9 623.1L914.3 659.1L915.6 685.2L916.7 702.7L917.8 711.5L918.5 707.3L919.2 700.2L920.7 676.9L922.3 641.2L924.3 588.9M927.1 508.9L930.3 430.0L931.6 406.3L932.8 391.5L933.6 386.3L934.2 391.1L935.1 405.9L936.0 430.0M941.6 618.3L942.5 640.8L943.3 655.4L944.0 662.0L944.6 659.3L945.6 651.1L946.6 637.6L951.3 563.5L952.4 551.6L952.9 548.0L953.4 546.0L954.2 548.9L955.1 555.0L958.1 584.6L959.1 593.3L959.7 596.7L960.2 598.6L960.4 599.0L960.8 597.4L961.9 589.8L963.1 576.2L968.1 501.0L969.2 489.4L969.8 485.9L970.3 484.0L970.9 485.8L971.6 488.8L973.0 499.1L974.7 516.2L980.0 576.9L981.7 590.4L982.5 594.4L983.2 596.5L984.0 594.3L984.7 590.6L986.4 577.9L988.3 558.4L993.9 491.7L995.7 476.3L996.6 471.3L997.3 468.1L997.8 467.0L998.0 467.6L999.1 473.6L1000.1 483.9L1003.1 519.7L1004.1 527.2L1004.6 529.4L1004.8 530.0L1004.9 529.8L1005.5 526.8L1006.1 521.7L1007.5 504.4L1011.7 427.9L1013.1 405.9L1014.3 392.6L1014.9 388.5L1015.4 386.3L1016.0 390.3L1016.8 399.5L1020.8 467.2L1021.7 479.6L1022.0 482.3L1023.0 487.3L1027.9 504.3L1028.5 507.0L1029.0 511.0L1030.0 522.2L1031.6 544.0L1034.3 589.0L1035.7 606.9L1036.5 614.2L1036.9 616.0L1037.2 614.3L1038.2 601.5L1039.3 578.9L1040.7 543.1M1041.8 511.9L1043.9 459.3L1044.8 445.6L1045.6 439.0L1046.3 444.9L1047.1 456.3L1048.8 496.4M1052.9 624.6L1054.3 659.3L1055.6 678.4L1056.0 681.5L1056.1 682.0L1056.2 681.7L1056.9 677.4L1057.6 670.3L1059.0 650.5L1060.5 621.3L1065.6 500.5L1067.5 460.6L1069.3 431.5L1070.2 423.1L1071.0 418.4L1072.0 421.9L1072.9 427.9L1075.1 448.3L1077.5 480.7L1082.6 560.9L1084.9 592.1L1087.2 617.6L1088.3 625.6L1089.3 630.4L1089.7 631.5L1089.8 631.3L1090.8 624.3L1091.8 613.8L1092.7 599.5L1094.7 560.7L1096.8 504.7M1102.3 137.4L1102.3 137.0L1102.4 137.1L1102.7 138.4L1103.7 146.0L1104.2 148.0L1104.6 146.5L1105.7 138.9L1106.2 137.0L1106.6 138.5L1107.7 146.1L1108.2 148.0L1108.7 146.5L1110.0 139.6L1110.3 139.0L1110.4 140.9"/>
<path class="w" style="stroke-width:4.4" d="M1125.4 1012.8L1126.0 939.7L1126.6 786.8L1126.9 480.0L1127.5 325.1L1128.0 246.1L1128.7 179.2L1129.5 136.1L1130.2 118.0L1131.6 150.0L1133.0 130.0L1134.5 152.0L1136.0 136.0L1137.5 153.9L1137.8 152.8L1138.6 145.6L1138.8 145.0L1138.8 146.3L1139.5 211.5L1141.0 472.6L1142.6 620.0L1144.2 688.5L1146.4 760.0L1149.3 839.4L1150.2 856.9L1151.0 865.0L1151.6 856.3L1152.3 837.8L1157.0 665.1L1158.1 612.8L1159.9 480.0L1161.9 400.3L1162.6 380.9L1163.3 372.0L1163.8 375.4L1164.3 381.7L1165.4 403.9L1169.0 494.3L1172.0 584.9L1172.9 604.0L1173.7 613.0L1174.3 610.6L1174.9 606.2L1176.2 591.8L1177.8 567.8L1182.6 483.3L1184.1 464.4L1184.8 459.0L1185.5 456.0L1186.2 458.3L1186.9 462.3L1188.5 475.6L1190.2 496.3L1195.5 567.6L1197.1 583.9L1197.9 589.1L1198.6 592.5L1199.0 593.5L1200.1 590.2L1201.1 585.1L1202.1 577.5L1204.3 557.1L1208.9 506.0L1210.8 486.4L1212.9 471.0L1213.8 466.5L1214.7 464.0L1215.4 466.2L1216.2 470.1L1217.8 482.8L1219.8 504.3L1224.0 558.8L1225.8 580.1L1227.8 596.9L1228.6 601.8L1229.5 604.5L1230.2 602.7L1231.0 599.6L1232.7 589.2L1238.0 541.0L1239.8 527.0L1240.8 521.2L1243.6 511.1L1244.3 506.1L1246.0 491.1L1250.5 441.4L1251.9 430.9L1252.6 427.8L1253.2 426.0L1253.8 429.2L1254.5 434.8L1255.8 453.1L1257.5 484.0L1262.5 593.0L1264.1 617.0L1264.9 624.1L1265.6 628.0L1266.5 625.0L1267.4 619.7L1269.4 601.7L1271.5 574.7L1277.8 486.3L1279.8 465.5L1280.7 458.4L1281.5 453.5L1282.3 450.7L1282.4 450.5L1282.6 450.9L1283.4 454.6L1284.3 461.0L1286.0 478.5L1290.5 536.7L1291.9 548.9L1292.6 552.5L1293.2 554.5L1293.7 552.9L1294.3 550.1L1295.5 540.6L1296.9 524.8L1301.3 468.5L1302.7 456.1L1303.4 452.5L1304.0 450.5L1304.8 453.1L1305.7 457.7L1307.6 472.9L1309.7 497.8L1314.4 559.8L1316.4 584.0L1318.5 603.6L1319.5 609.6L1320.4 613.1L1320.6 613.5L1320.8 613.1L1321.5 609.9L1322.9 598.2L1327.1 542.3L1328.5 526.3L1329.3 520.5L1330.0 517.0L1330.3 516.0L1330.8 518.1L1331.9 528.0L1333.1 545.8L1337.0 621.3L1338.4 644.1L1339.6 659.1L1340.2 663.5L1340.7 666.0L1341.3 662.5L1341.9 656.2L1343.3 635.2L1344.9 600.2L1349.9 476.4L1351.6 448.8L1352.3 440.8L1353.0 436.5L1353.7 439.1L1354.5 443.7L1356.2 459.4L1358.0 483.7L1363.5 564.6L1365.2 583.6L1366.0 589.8L1366.8 593.9L1367.3 595.5L1368.1 593.8L1369.1 589.9L1370.1 583.8L1372.1 569.0L1376.4 531.7L1378.8 507.9L1380.3 484.7L1387.3 269.4L1389.0 232.6L1389.6 224.3L1390.1 220.5L1390.7 228.8L1391.2 243.2L1392.5 291.4L1393.9 366.3L1395.6 480.0L1396.8 620.0L1398.0 801.7L1398.6 864.6L1399.1 897.7L1400.3 949.0L1401.5 982.9L1403.4 1015.7L1404.7 1031.8L1405.2 1035.5L1405.6 1037.2L1406.0 1036.1L1406.4 1033.9L1407.5 1025.0L1408.3 1011.3L1409.9 969.4L1410.4 937.0L1410.5 480.0L1410.9 347.0L1411.2 280.8L1412.0 210.8L1412.8 154.4L1413.6 130.0L1413.9 132.2L1414.8 143.2L1415.2 146.0L1415.5 144.2L1416.3 133.5L1416.6 131.0L1417.0 133.2L1418.1 145.7L1418.2 146.0L1418.4 145.1L1419.5 137.0L1419.8 145.8L1421.0 218.1L1423.6 456.2L1425.0 541.1L1426.7 620.0L1428.5 685.2L1431.9 792.7L1432.4 805.0L1432.8 810.5L1433.6 808.2L1434.4 803.9L1436.2 789.3L1438.6 760.0L1439.2 745.4L1440.5 702.3L1442.4 620.0L1444.9 480.0L1446.9 408.3L1447.6 391.8L1448.2 384.0L1449.0 392.2L1450.0 410.4L1456.9 581.0L1458.0 600.2L1458.5 605.8L1459.0 609.0L1459.6 606.6L1460.3 602.4L1461.7 588.6L1463.3 565.5L1468.5 483.5L1470.1 465.2L1470.9 459.9L1471.6 457.0L1472.4 458.6L1473.2 461.3L1474.9 470.6L1476.8 484.3L1482.1 528.8L1483.8 539.4L1485.3 545.7L1486.0 547.3L1486.2 547.5L1486.4 547.3L1487.3 545.4L1488.3 541.9L1490.2 532.7L1493.9 509.8L1495.4 501.3L1497.1 494.7L1497.8 492.8L1498.5 492.1L1499.4 493.8L1500.3 497.0L1502.4 507.7L1504.3 521.1L1508.8 555.6L1510.8 569.3L1512.6 577.5L1513.4 580.0L1514.2 581.4L1515.3 579.2L1516.5 575.3L1517.7 569.7L1519.0 562.3L1522.0 540.7L1528.5 485.6L1531.3 464.1L1532.9 454.3L1534.3 447.1L1535.7 442.1L1537.0 439.4L1537.7 442.3L1538.4 447.4L1539.8 464.3L1541.6 492.3L1545.4 563.9L1547.1 591.8L1548.8 614.0L1549.6 620.4L1550.4 624.0L1551.2 621.5L1552.0 617.1L1553.8 602.3L1556.0 577.5L1560.6 514.7L1562.6 490.2L1564.8 470.8L1565.8 465.1L1566.7 462.0L1567.3 463.8L1567.9 467.1L1569.3 477.9L1570.9 495.8L1575.9 559.5L1577.6 573.7L1578.3 577.8L1579.0 580.0L1579.6 578.3L1580.2 575.2L1581.5 565.0L1583.0 548.6L1587.7 491.1L1589.2 478.1L1589.9 474.1L1590.6 471.8L1590.7 471.5L1591.1 472.4L1591.8 475.6L1593.3 486.6L1595.1 504.6L1598.7 550.3L1600.3 568.1L1602.0 582.1L1602.8 586.1L1603.5 588.4L1604.1 586.6L1604.8 583.4L1606.3 572.2L1610.8 521.7L1612.3 507.3L1613.5 498.7L1614.2 496.1L1614.6 495.1L1615.2 498.1L1615.9 503.4L1617.2 521.6L1621.5 602.1L1622.9 625.1L1624.0 639.1L1624.6 643.3L1625.1 645.6L1625.7 642.3L1626.3 636.3L1627.7 616.5L1629.2 586.3L1633.7 484.1L1635.1 460.3L1636.4 447.5L1636.8 445.3L1637.4 448.0L1638.2 454.2L1639.0 463.8L1640.7 490.5L1644.1 558.0L1645.6 583.8L1647.3 603.7L1648.1 609.2L1648.4 610.5L1648.6 610.1L1649.7 604.5L1651.0 593.4L1655.7 537.2L1661.9 473.8L1666.2 420.4L1670.1 359.3L1670.7 352.7L1671.2 350.0L1671.7 352.5L1672.2 357.1L1673.3 372.4L1674.9 402.2L1676.0 429.3L1679.5 595.6L1681.5 725.5L1685.6 868.7L1686.8 902.5L1687.3 910.7L1687.9 902.7L1688.6 881.0L1690.2 799.5L1691.5 714.0L1693.2 574.5L1695.9 387.2L1699.0 200.7L1699.4 180.1L1699.8 171.0L1700.6 185.0L1701.6 217.1L1707.6 472.4L1710.9 603.4L1713.6 691.0L1714.2 705.7L1714.7 712.5L1715.6 707.7L1716.4 699.3L1718.3 671.4L1720.6 625.1L1725.5 506.7L1727.6 460.3L1728.8 439.6L1729.9 423.8L1730.9 413.1L1731.9 407.3L1732.5 410.0L1733.1 415.0L1734.5 431.5L1736.1 458.8L1741.1 555.8L1742.8 577.3L1743.5 583.6L1744.2 587.0L1745.0 585.3L1745.7 582.3L1747.4 572.2L1749.4 555.6L1753.7 513.2L1755.6 496.4L1757.6 483.3L1758.5 479.5L1759.4 477.4L1760.2 478.7L1761.1 481.1L1763.0 489.2L1765.0 500.8L1770.6 538.0L1772.4 547.0L1774.0 552.5L1775.1 554.5L1775.8 553.6L1776.5 552.1L1778.1 546.4L1782.4 527.0L1783.8 523.2L1784.5 522.3L1784.8 522.6L1785.7 524.0L1786.6 526.2L1788.6 533.4L1790.4 542.3L1794.8 565.0L1796.8 574.1L1798.6 579.8L1799.4 581.5L1800.2 582.5L1801.6 579.4L1803.0 574.1L1804.5 566.4L1806.0 556.5L1809.3 529.4L1813.0 491.0"/>
<path class="w" style="stroke-width:5.0" d="M1125.4 1012.8L1125.5 1010.2M1128.8 174.7L1129.6 134.4L1130.2 118.0L1131.6 150.0L1133.0 130.0L1134.5 151.8L1134.8 150.0L1135.6 138.9L1136.0 136.0L1137.5 153.9L1137.8 152.9L1138.8 145.0L1139.0 158.1M1142.4 609.1L1144.0 681.7L1146.4 760.0L1149.3 839.4L1150.2 856.9L1151.0 865.0L1151.7 854.0L1152.5 828.7L1156.9 667.5L1158.3 597.9M1159.5 505.1L1159.9 480.0L1161.6 409.6L1162.5 383.9L1163.3 372.0L1163.8 375.4L1164.3 381.7L1165.4 403.9L1169.0 494.3L1172.0 584.9L1172.9 604.0L1173.7 613.0L1174.3 610.6L1174.9 606.2L1176.2 591.8L1177.8 567.8L1182.6 483.3L1184.1 464.4L1184.8 459.0L1185.5 456.0L1186.2 458.3L1186.9 462.3L1188.5 475.6L1190.2 496.3L1195.5 567.6L1197.1 583.9L1197.9 589.1L1198.6 592.5L1199.0 593.5L1200.1 590.2L1201.1 585.1L1202.1 577.5L1204.3 557.1L1208.9 506.0L1210.8 486.4L1212.9 471.0L1213.8 466.5L1214.7 464.0L1215.4 466.2L1216.2 470.1L1217.8 482.8L1219.8 504.3L1224.0 558.8L1225.8 580.1L1227.8 596.9L1228.6 601.8L1229.5 604.5L1230.2 602.7L1231.0 599.6L1232.7 589.2L1238.0 541.0L1239.8 527.0L1240.8 521.2L1243.6 511.1L1244.3 506.1L1246.0 491.1L1250.5 441.4L1251.9 430.9L1252.6 427.8L1253.2 426.0L1253.8 429.2L1254.5 434.8L1255.8 453.1L1257.5 484.0L1262.5 593.0L1264.1 617.0L1264.9 624.1L1265.6 628.0L1266.5 625.0L1267.4 619.7L1269.4 601.7L1271.5 574.7L1277.8 486.3L1279.8 465.5L1280.7 458.4L1281.5 453.5L1282.3 450.7L1282.4 450.5L1282.6 450.9L1283.4 454.6L1284.3 461.0L1286.0 478.5L1290.5 536.7L1291.9 548.9L1292.6 552.5L1293.2 554.5L1293.7 552.9L1294.3 550.1L1295.5 540.6L1296.9 524.8L1301.3 468.5L1302.7 456.1L1303.4 452.5L1304.0 450.5L1304.8 453.1L1305.7 457.7L1307.6 472.9L1309.7 497.8L1314.4 559.8L1316.4 584.0L1318.5 603.6L1319.5 609.6L1320.4 613.1L1320.6 613.5L1320.8 613.1L1321.5 609.9L1322.9 598.2L1327.1 542.3L1328.5 526.3L1329.3 520.5L1330.0 517.0L1330.3 516.0L1330.8 518.1L1331.9 528.0L1333.1 545.8L1337.0 621.3L1338.4 644.1L1339.6 659.1L1340.2 663.5L1340.7 666.0L1341.3 662.5L1341.9 656.2L1343.3 635.2L1344.9 600.2L1349.9 476.4L1351.6 448.8L1352.3 440.8L1353.0 436.5L1353.7 439.1L1354.5 443.7L1356.2 459.4L1358.0 483.7L1363.5 564.6L1365.2 583.6L1366.0 589.8L1366.8 593.9L1367.3 595.5L1368.1 593.8L1369.1 589.9L1370.1 583.8L1372.1 569.0L1376.4 531.7L1378.8 507.9L1380.3 484.7L1387.3 269.4L1389.0 232.6L1389.6 224.3L1390.1 220.5L1390.6 228.4L1391.2 242.1L1392.4 286.8L1393.7 356.7L1395.3 459.5M1398.7 876.4L1399.7 927.1L1400.9 968.5L1402.8 1006.7L1404.1 1024.5L1405.0 1034.1L1405.6 1037.2L1406.0 1036.1L1406.8 1031.4L1407.6 1023.4L1408.7 1003.2L1410.0 966.3M1412.2 189.7L1412.9 148.8L1413.6 130.0L1413.9 132.2L1414.8 143.2L1415.2 146.0L1416.6 131.0L1416.9 133.0L1417.8 143.4L1418.2 146.0L1419.5 137.0L1420.0 153.1L1420.6 187.1M1423.7 466.5L1425.4 562.2L1427.3 643.2L1429.2 709.5L1431.7 788.6L1432.3 804.2L1432.8 810.5L1433.6 808.2L1434.4 803.9L1436.2 789.3L1438.6 760.0L1439.2 745.4L1440.5 702.3L1442.4 620.0L1444.9 480.0L1446.9 408.3L1447.6 391.8L1448.2 384.0L1449.0 392.2L1450.0 410.4L1456.9 581.0L1458.0 600.2L1458.5 605.8L1459.0 609.0L1459.6 606.6L1460.3 602.4L1461.7 588.6L1463.3 565.5L1468.5 483.5L1470.1 465.2L1470.9 459.9L1471.6 457.0L1472.4 458.6L1473.2 461.3L1474.9 470.6L1476.8 484.3L1482.1 528.8L1483.8 539.4L1485.3 545.7L1486.0 547.3L1486.2 547.5L1486.4 547.3L1487.3 545.4L1488.3 541.9L1490.2 532.7L1493.9 509.8L1495.4 501.3L1497.1 494.7L1497.8 492.8L1498.5 492.1L1499.4 493.8L1500.3 497.0L1502.4 507.7L1504.3 521.1L1508.8 555.6L1510.8 569.3L1512.6 577.5L1513.4 580.0L1514.2 581.4L1515.3 579.2L1516.5 575.3L1517.7 569.7L1519.0 562.3L1522.0 540.7L1528.5 485.6L1531.3 464.1L1532.9 454.3L1534.3 447.1L1535.7 442.1L1537.0 439.4L1537.7 442.3L1538.4 447.4L1539.8 464.3L1541.6 492.3L1545.4 563.9L1547.1 591.8L1548.8 614.0L1549.6 620.4L1550.4 624.0L1551.2 621.5L1552.0 617.1L1553.8 602.3L1556.0 577.5L1560.6 514.7L1562.6 490.2L1564.8 470.8L1565.8 465.1L1566.7 462.0L1567.3 463.8L1567.9 467.1L1569.3 477.9L1570.9 495.8L1575.9 559.5L1577.6 573.7L1578.3 577.8L1579.0 580.0L1579.6 578.3L1580.2 575.2L1581.5 565.0L1583.0 548.6L1587.7 491.1L1589.2 478.1L1589.9 474.1L1590.6 471.8L1590.7 471.5L1591.1 472.4L1591.8 475.6L1593.3 486.6L1595.1 504.6L1598.7 550.3L1600.3 568.1L1602.0 582.1L1602.8 586.1L1603.5 588.4L1604.1 586.6L1604.8 583.4L1606.3 572.2L1610.8 521.7L1612.3 507.3L1613.5 498.7L1614.2 496.1L1614.6 495.1L1615.2 498.1L1615.9 503.4L1617.2 521.6L1621.5 602.1L1622.9 625.1L1624.0 639.1L1624.6 643.3L1625.1 645.6L1625.7 642.3L1626.3 636.3L1627.7 616.5L1629.2 586.3L1633.7 484.1L1635.1 460.3L1636.4 447.5L1636.8 445.3L1637.4 448.0L1638.2 454.2L1639.0 463.8L1640.7 490.5L1644.1 558.0L1645.6 583.8L1647.3 603.7L1648.1 609.2L1648.4 610.5L1648.6 610.1L1649.7 604.5L1651.0 593.4L1655.7 537.2L1661.9 473.8L1666.2 420.4L1670.1 359.3L1670.7 352.7L1671.2 350.0L1671.7 352.4L1672.2 356.5L1673.2 370.5L1674.5 393.8L1675.8 424.0L1679.1 574.3L1679.9 621.4M1680.8 687.3L1681.2 714.9L1682.3 758.9L1685.8 874.3L1686.8 903.5L1687.3 910.7L1688.0 898.9L1688.9 871.7L1691.3 730.9M1694.3 496.8L1697.6 282.9L1699.1 192.3L1699.8 171.0L1700.6 185.0L1701.6 217.1L1707.6 472.4L1710.9 603.4L1713.6 691.0L1714.2 705.7L1714.7 712.5L1715.6 707.7L1716.4 699.3L1718.3 671.4L1720.6 625.1L1725.5 506.7L1727.6 460.3L1728.8 439.6L1729.9 423.8L1730.9 413.1L1731.9 407.3L1732.5 410.0L1733.1 415.0L1734.5 431.5L1736.1 458.8L1741.1 555.8L1742.8 577.3L1743.5 583.6L1744.2 587.0L1745.0 585.3L1745.7 582.3L1747.4 572.2L1749.4 555.6L1753.7 513.2L1755.6 496.4L1757.6 483.3L1758.5 479.5L1759.4 477.4L1760.2 478.7L1761.1 481.1L1763.0 489.2L1765.0 500.8L1770.6 538.0L1772.4 547.0L1774.0 552.5L1775.1 554.5L1775.8 553.6L1776.5 552.1L1778.1 546.4L1782.4 527.0L1783.8 523.2L1784.5 522.3L1784.8 522.6L1785.7 524.0L1786.6 526.2L1788.6 533.4L1790.4 542.3L1794.8 565.0L1796.8 574.1L1798.6 579.8L1799.4 581.5L1800.2 582.5L1801.6 579.4L1803.0 574.1L1804.5 566.4L1806.0 556.5L1809.3 529.4L1813.0 491.0"/>
<path class="w" style="stroke-width:5.6" d="M1129.8 125.9L1130.2 118.0L1130.8 130.2M1131.0 137.8L1131.6 150.0L1133.0 130.0L1134.5 152.0L1136.0 136.0L1137.5 153.9L1137.8 152.8L1138.7 145.2M1148.2 813.0L1149.6 845.9L1150.6 862.5L1151.0 865.0L1151.2 863.4L1151.9 847.7M1162.1 393.1L1162.7 379.0L1163.3 372.0L1163.8 375.4L1164.3 381.7L1165.6 408.6L1169.1 497.1M1171.6 573.7L1172.5 597.8L1173.4 610.6L1173.7 612.9L1174.3 610.5L1174.9 606.3L1176.0 594.7L1177.2 577.1L1181.2 504.6L1182.7 481.0L1184.2 463.9L1184.9 458.8L1185.5 456.0L1186.3 458.6L1187.1 463.4L1188.9 479.9L1190.5 500.8L1194.4 554.8L1196.3 576.6L1197.2 584.5L1198.0 590.0L1199.0 593.5L1199.4 592.7L1200.2 589.7L1201.1 584.8L1203.1 569.4L1204.9 550.4L1209.2 501.9L1211.3 482.2L1213.1 469.9L1213.9 466.1L1214.7 464.0L1215.6 466.7L1216.4 471.6L1218.4 488.4L1220.2 509.7L1224.4 564.5L1226.4 586.1L1228.1 599.2L1229.0 603.1L1229.5 604.5L1229.6 604.3L1230.3 602.4L1231.1 599.2L1232.7 588.7L1237.9 541.2L1239.7 527.2L1240.8 521.3L1243.6 511.1L1244.3 506.1L1246.0 491.1L1250.5 441.4L1251.9 430.9L1252.6 427.8L1253.2 426.0L1253.8 429.2L1254.5 434.8L1255.8 453.1L1257.5 484.0L1262.5 593.0L1264.1 617.0L1264.9 624.1L1265.6 628.0L1266.5 625.0L1267.4 619.7L1269.4 601.7L1271.5 574.7L1277.8 486.3L1279.8 465.5L1280.7 458.4L1281.5 453.5L1282.3 450.7L1282.4 450.5L1282.6 450.9L1283.4 454.6L1284.3 461.0L1286.0 478.5L1290.5 536.7L1291.9 548.9L1292.6 552.5L1293.2 554.5L1293.7 552.9L1294.3 550.1L1295.5 540.6L1296.9 524.8L1301.3 468.5L1302.7 456.1L1303.4 452.5L1304.0 450.5L1304.8 453.1L1305.7 457.7L1307.6 472.9L1309.7 497.8L1314.4 559.8L1316.4 584.0L1318.5 603.6L1319.5 609.6L1320.4 613.1L1320.6 613.5L1320.8 613.1L1321.5 609.9L1322.9 598.2L1327.1 542.3L1328.5 526.3L1329.3 520.5L1330.0 517.0L1330.3 516.0L1330.8 518.1L1331.9 528.0L1333.1 545.8L1337.0 621.3L1338.4 644.1L1339.6 659.1L1340.2 663.5L1340.7 666.0L1341.3 662.3L1342.0 655.9L1343.3 634.4L1345.0 599.3L1349.9 478.0L1351.4 450.4L1352.2 442.1L1352.8 437.2L1353.0 436.5L1353.3 437.4L1354.2 441.8L1355.9 457.0L1357.9 481.7L1362.0 543.7L1363.7 567.9L1365.6 586.9L1366.5 592.5L1367.3 595.5L1368.1 593.8L1368.9 590.8L1370.6 580.5L1372.4 566.5L1376.6 530.1L1378.2 514.5L1379.5 498.9L1380.1 489.4L1380.8 472.4M1387.2 273.8L1388.8 237.8L1389.8 222.3L1390.1 220.5L1390.3 222.8L1391.1 240.3M1400.9 967.3L1401.9 991.5L1403.2 1012.3L1404.7 1031.2L1405.2 1035.3L1405.6 1037.2L1406.1 1035.8L1406.6 1032.9L1407.7 1022.3L1408.6 1006.0L1409.5 980.4M1413.3 137.0L1413.5 130.8L1413.6 130.0L1413.7 130.3L1414.8 143.6L1415.2 146.0L1416.6 131.0L1417.0 133.2L1418.1 145.8L1418.2 145.9L1418.4 145.0L1419.5 137.0L1419.8 143.1M1431.9 792.7L1432.4 805.0L1432.8 810.5L1433.6 808.0L1434.5 803.3L1436.0 791.3L1437.6 773.0L1438.6 760.0L1439.3 744.3M1447.0 406.6L1447.6 391.4L1448.2 384.0L1448.7 387.8L1449.2 395.3L1450.3 417.5L1456.7 576.7L1457.9 599.1L1458.5 605.4L1459.0 609.0L1459.6 606.6L1460.3 602.4L1461.7 588.6L1463.3 565.5L1468.5 483.5L1470.1 465.2L1470.9 459.9L1471.6 457.0L1472.4 458.6L1473.2 461.3L1474.9 470.6L1476.8 484.3L1482.1 528.8L1483.8 539.4L1485.3 545.7L1486.0 547.3L1486.2 547.5L1486.4 547.3L1487.3 545.4L1488.3 541.9L1490.2 532.7L1493.9 509.8L1495.4 501.3L1497.1 494.7L1497.8 492.8L1498.5 492.1L1499.4 493.8L1500.3 497.0L1502.4 507.7L1504.3 521.1L1508.8 555.6L1510.8 569.3L1512.6 577.5L1513.4 580.0L1514.2 581.4L1515.3 579.2L1516.5 575.3L1517.7 569.7L1519.0 562.3L1522.0 540.7L1528.5 485.6L1531.3 464.1L1532.9 454.3L1534.3 447.1L1535.7 442.1L1537.0 439.4L1537.7 442.3L1538.4 447.4L1539.8 464.3L1541.6 492.3L1545.4 563.9L1547.1 591.8L1548.8 614.0L1549.6 620.4L1550.4 624.0L1551.2 621.5L1552.0 617.1L1553.8 602.3L1556.0 577.5L1560.6 514.7L1562.6 490.2L1564.8 470.8L1565.8 465.1L1566.7 462.0L1567.3 463.8L1567.9 467.1L1569.3 477.9L1570.9 495.8L1575.9 559.5L1577.6 573.7L1578.3 577.8L1579.0 580.0L1579.6 578.3L1580.2 575.2L1581.5 565.0L1583.0 548.6L1587.7 491.1L1589.2 478.1L1589.9 474.1L1590.6 471.8L1590.7 471.5L1591.1 472.4L1591.8 475.6L1593.3 486.6L1595.1 504.6L1598.7 550.3L1600.3 568.1L1602.0 582.1L1602.8 586.1L1603.5 588.4L1604.1 586.6L1604.8 583.4L1606.3 572.2L1610.8 521.7L1612.3 507.3L1613.5 498.7L1614.2 496.1L1614.6 495.1L1615.2 498.1L1615.9 503.4L1617.2 521.6L1621.5 602.1L1622.9 625.1L1624.0 639.1L1624.6 643.3L1625.1 645.6L1625.7 642.5L1626.3 636.8L1627.6 617.9L1629.1 587.6L1633.8 481.4L1635.3 457.4L1636.0 450.2L1636.7 445.8L1636.8 445.3L1637.1 446.3L1637.8 450.9L1639.2 466.5L1640.8 492.3L1645.5 581.9L1647.0 601.6L1647.7 607.4L1648.4 610.5L1649.0 608.6L1649.6 605.3L1651.0 593.8L1655.7 537.2L1662.0 473.1L1666.0 422.9L1668.8 378.5L1670.2 358.3L1670.9 351.5L1671.2 350.0L1671.7 352.5L1672.9 365.3L1674.1 387.0L1675.7 421.0M1686.3 889.7L1686.9 905.3L1687.3 910.7L1687.7 905.6L1688.3 892.6M1699.5 176.1L1699.8 171.0L1700.0 172.4L1700.8 189.8M1713.6 692.2L1714.2 706.1L1714.7 712.5L1715.4 708.8L1716.1 702.7L1717.6 683.4L1720.3 631.4L1725.5 505.3L1727.7 459.2L1728.8 438.9L1729.9 423.5L1730.9 413.1L1731.9 407.3L1732.5 410.0L1733.1 415.0L1734.5 431.5L1736.1 458.8L1741.1 555.8L1742.8 577.3L1743.5 583.6L1744.2 587.0L1745.0 585.3L1745.7 582.3L1747.4 572.2L1749.4 555.6L1753.7 513.2L1755.6 496.4L1757.6 483.3L1758.5 479.5L1759.4 477.4L1760.2 478.7L1761.1 481.1L1763.0 489.2L1765.0 500.8L1770.6 538.0L1772.4 547.0L1774.0 552.5L1775.1 554.5L1775.8 553.6L1776.5 552.1L1778.1 546.4L1782.4 527.0L1783.8 523.2L1784.5 522.3L1784.8 522.6L1785.7 524.0L1786.6 526.2L1788.6 533.4L1790.4 542.3L1794.8 565.0L1796.8 574.1L1798.6 579.8L1799.4 581.5L1800.2 582.5L1801.6 579.4L1803.0 574.1L1804.5 566.4L1806.0 556.5L1809.3 529.4L1813.0 491.0"/>
<path class="w" d="M1103.4 936.2L1104.6 970.9L1105.9 998.1L1107.1 1015.7L1108.9 1031.4L1110.4 1040.0L1111.2 1042.0L1111.5 1041.2L1112.2 1037.7L1112.8 1032.0L1114.0 1014.0" stroke-linecap="butt"/>
</g>
<g id="right">
<path class="ax" d="M2098 1137V43.4H3564.2V1137"/>
<path class="ax" d="M2095.7 1134.7H3566.5"/>
<path class="ax" d="M2244.6 1114.2V1134.6M2391.2 1114.2V1134.6M2537.9 1114.2V1134.6M2684.5 1114.2V1134.6M2831.1 1114.2V1134.6M2977.7 1114.2V1134.6M3124.3 1114.2V1134.6M3271.0 1114.2V1134.6M3417.6 1114.2V1134.6"/>
<path class="ax" d="M2867.3 77.6H2982.6"/>
<path class="w2" d="M2098.0 512.0L2098.5 503.9L2099.0 495.4L2099.5 486.5L2100.0 477.5L2100.5 468.2L2101.0 458.4L2101.5 448.4L2102.0 437.7L2102.5 426.5L2103.0 415.1L2103.5 403.8L2104.0 392.7L2104.5 382.1L2105.0 371.8L2105.5 361.8L2106.0 352.0L2106.5 342.3L2107.0 332.6L2107.5 323.2L2108.0 313.6L2108.5 304.1L2109.0 294.8L2109.5 285.3L2110.0 275.9L2110.5 266.5L2111.0 257.0L2111.5 247.2L2112.0 236.9L2112.5 226.5L2113.0 216.1L2113.5 206.0L2114.0 196.4L2114.5 187.7L2115.0 180.1L2115.5 172.9L2116.0 166.1L2116.5 159.4L2117.0 153.7L2117.5 148.0L2118.0 143.8L2118.5 141.6L2119.0 138.7L2119.5 137.3L2120.0 135.1L2120.5 134.1L2121.0 131.4L2121.5 132.7L2122.0 133.2L2122.5 135.2L2123.0 135.6L2123.5 138.0L2124.0 139.3L2124.5 142.6L2125.0 146.6L2125.5 152.0L2126.0 159.1L2126.5 167.2L2127.0 176.6L2127.5 189.6L2128.0 209.4L2128.5 233.0L2129.0 257.0L2129.5 281.6L2130.0 308.4L2130.5 336.2L2131.0 363.9L2131.5 390.3L2132.0 414.3L2132.5 437.5L2133.0 461.6L2133.5 488.4L2134.0 519.8L2134.5 563.6L2135.0 615.7L2135.5 660.0L2136.0 692.6L2136.5 721.3L2137.0 747.1L2137.5 771.2L2138.0 794.7L2138.5 818.6L2139.0 842.5L2139.5 865.1L2140.0 885.3L2140.5 901.7L2141.0 914.1L2141.5 925.0L2142.0 934.8L2142.5 943.7L2143.0 951.6L2143.5 959.1L2144.0 965.4L2144.5 971.2L2145.0 976.2L2145.5 981.4L2146.0 985.6L2146.5 990.3L2147.0 994.1L2147.5 998.0L2148.0 1002.4L2148.5 1005.2L2149.0 1007.6L2149.5 1010.1L2150.0 1012.8L2150.5 1013.3L2151.0 1015.5L2151.5 1017.3L2152.0 1017.8L2152.5 1019.4L2153.0 1021.0L2153.5 1022.1L2154.0 1019.9L2154.5 1022.2L2155.0 1018.7L2155.5 1019.9L2156.0 1018.7L2156.5 1015.6L2157.0 1014.3L2157.5 1012.9L2158.0 1009.2L2158.5 1007.7L2159.0 1005.2L2159.5 1001.9L2160.0 998.6L2160.5 993.3L2161.0 987.0L2161.5 979.6L2162.0 971.1L2162.5 961.9L2163.0 952.2L2163.5 941.9L2164.0 931.5L2164.5 920.6L2165.0 908.6L2165.5 895.2L2166.0 880.5L2166.5 864.5L2167.0 847.0L2167.5 828.8L2168.0 810.2L2168.5 785.8L2169.0 749.8L2169.5 660.0L2170.0 560.5L2170.5 505.4L2171.0 474.4L2171.5 449.5L2172.0 429.6L2172.5 413.3L2173.0 399.6L2173.5 387.3L2174.0 375.2L2174.5 363.5L2175.0 352.5L2175.5 342.3L2176.0 332.6L2176.5 324.0L2177.0 316.3L2177.5 309.5L2178.0 304.1L2178.5 300.5L2179.0 296.8L2179.5 292.3L2180.0 289.9L2180.5 287.1L2181.0 285.3L2181.5 284.4L2182.0 282.7L2182.5 285.9L2183.0 285.7L2183.5 288.3L2184.0 290.9L2184.5 293.1L2185.0 296.1L2185.5 299.8L2186.0 303.8L2186.5 307.6L2187.0 311.8L2187.5 315.9L2188.0 321.7L2188.5 327.0L2189.0 332.7L2189.5 338.2L2190.0 344.5L2190.5 349.9L2191.0 356.0L2191.5 362.0L2192.0 368.2L2192.5 374.1L2193.0 379.7L2193.5 385.8L2194.0 391.5L2194.5 398.3L2195.0 404.5L2195.5 411.3L2196.0 417.1L2196.5 423.5L2197.0 429.9L2197.5 434.8L2198.0 440.0L2198.5 443.9L2199.0 447.5L2199.5 450.0L2200.0 454.3L2200.5 455.9L2201.0 461.0L2201.5 464.4L2202.0 466.7L2202.5 466.1L2203.0 469.3L2203.5 471.2L2204.0 472.2L2204.5 476.6L2205.0 479.4L2205.5 478.8L2206.0 483.5L2206.5 484.6L2207.0 480.9L2207.5 486.0L2208.0 486.9L2208.5 481.3L2209.0 483.8L2209.5 483.8L2210.0 482.9L2210.5 478.3L2211.0 481.8L2211.5 480.7L2212.0 481.3L2212.5 480.4L2213.0 476.0L2213.5 478.4L2214.0 479.0L2214.5 478.7L2215.0 472.0L2215.5 470.3L2216.0 474.8L2216.5 470.5L2217.0 472.8L2217.5 475.5L2218.0 470.0L2218.5 468.3L2219.0 469.7L2219.5 471.1L2220.0 465.6L2220.5 468.0L2221.0 465.5L2221.5 470.6L2222.0 472.4L2222.5 468.4L2223.0 468.8L2223.5 471.0L2224.0 468.7L2224.5 469.8L2225.0 471.4L2225.5 473.4L2226.0 471.0L2226.5 478.0L2227.0 477.3L2227.5 475.7L2228.0 474.4L2228.5 481.8L2229.0 476.4L2229.5 477.1L2230.0 477.8L2230.5 478.0L2231.0 487.0L2231.5 481.4L2232.0 482.5L2232.5 488.5L2233.0 487.1L2233.5 483.6L2234.0 486.8L2234.5 492.0L2235.0 487.7L2235.5 491.8L2236.0 486.4L2236.5 493.4L2237.0 494.6L2237.5 495.8L2238.0 494.9L2238.5 492.5L2239.0 490.0L2239.5 495.2L2240.0 498.3L2240.5 493.0L2241.0 494.4L2241.5 497.7L2242.0 500.4L2242.5 502.5L2243.0 495.1L2243.5 496.3L2244.0 503.1L2244.5 502.1L2245.0 503.4L2245.5 506.8L2246.0 506.8L2246.5 506.4L2247.0 506.4L2247.5 503.1L2248.0 506.3L2248.5 502.4L2249.0 508.8L2249.5 509.6L2250.0 510.0L2250.5 508.1L2251.0 508.3L2251.5 509.6L2252.0 507.0L2252.5 515.5L2253.0 513.9L2253.5 513.8L2254.0 516.5L2254.5 519.3L2255.0 517.9L2255.5 522.9L2256.0 525.1L2256.5 522.5L2257.0 522.2L2257.5 528.5L2258.0 531.9L2258.5 527.2L2259.0 533.1L2259.5 535.6L2260.0 538.0L2260.5 533.8L2261.0 535.2L2261.5 543.6L2262.0 538.6L2262.5 540.7L2263.0 545.4L2263.5 546.1L2264.0 550.0L2264.5 547.8L2265.0 554.7L2265.5 551.6L2266.0 557.3L2266.5 554.3L2267.0 559.0L2267.5 557.8L2268.0 561.6L2268.5 563.5L2269.0 568.2L2269.5 568.2L2270.0 567.3L2270.5 575.7L2271.0 576.8L2271.5 578.8L2272.0 575.7L2272.5 578.5L2273.0 578.9L2273.5 579.7L2274.0 580.5L2274.5 585.6L2275.0 584.0L2275.5 585.9L2276.0 592.9L2276.5 591.3L2277.0 590.4L2277.5 595.7L2278.0 593.9L2278.5 597.5L2279.0 596.9L2279.5 600.2L2280.0 602.5L2280.5 603.1L2281.0 603.2L2281.5 607.9L2282.0 609.9L2282.5 605.0L2283.0 605.7L2283.5 606.5L2284.0 615.6L2284.5 616.3L2285.0 610.4L2285.5 618.5L2286.0 611.8L2286.5 615.4L2287.0 616.0L2287.5 620.9L2288.0 612.7L2288.5 616.1L2289.0 619.6L2289.5 614.9L2290.0 617.2L2290.5 620.1L2291.0 625.0L2291.5 624.3L2292.0 625.5L2292.5 625.3L2293.0 625.2L2293.5 627.2L2294.0 625.8L2294.5 626.7L2295.0 622.3L2295.5 621.1L2296.0 627.6L2296.5 621.3L2297.0 629.5L2297.5 626.0L2298.0 623.0L2298.5 629.1L2299.0 620.5L2299.5 623.7L2300.0 618.8L2300.5 626.8L2301.0 622.2L2301.5 623.5L2302.0 617.6L2302.5 621.4L2303.0 619.4L2303.5 617.7L2304.0 619.3L2304.5 613.5L2305.0 612.2L2305.5 613.4L2306.0 613.4L2306.5 607.9L2307.0 609.0L2307.5 603.9L2308.0 604.2L2308.5 603.3L2309.0 596.9L2309.5 598.0L2310.0 591.8L2310.5 593.7L2311.0 588.6L2311.5 585.5L2312.0 584.1L2312.5 580.3L2313.0 578.5L2313.5 572.6L2314.0 572.4L2314.5 569.8L2315.0 569.7L2315.5 562.1L2316.0 562.5L2316.5 561.5L2317.0 558.8L2317.5 553.7L2318.0 554.7L2318.5 550.3L2319.0 547.9L2319.5 550.1L2320.0 543.7L2320.5 543.4L2321.0 543.4L2321.5 541.3L2322.0 538.5L2322.5 538.8L2323.0 534.6L2323.5 534.4L2324.0 534.9L2324.5 532.6L2325.0 531.3L2325.5 528.2L2326.0 528.9L2326.5 526.5L2327.0 529.3L2327.5 525.0L2328.0 525.3L2328.5 527.7L2329.0 524.5L2329.5 522.3L2330.0 526.9L2330.5 521.7L2331.0 526.1L2331.5 525.0L2332.0 521.0L2332.5 523.4L2333.0 515.8L2333.5 519.2L2334.0 523.8L2334.5 520.4L2335.0 519.9L2335.5 520.6L2336.0 520.4L2336.5 519.1L2337.0 517.0L2337.5 514.2L2338.0 515.0L2338.5 514.7L2339.0 515.8L2339.5 521.5L2340.0 514.3L2340.5 514.9L2341.0 513.8L2341.5 515.6L2342.0 519.1L2342.5 518.0L2343.0 512.2L2343.5 510.6L2344.0 516.6L2344.5 512.0L2345.0 513.5L2345.5 506.6L2346.0 514.2L2346.5 508.0L2347.0 509.3L2347.5 505.7L2348.0 507.4L2348.5 511.0L2349.0 510.4L2349.5 506.2L2350.0 508.7L2350.5 505.0L2351.0 503.6L2351.5 504.9L2352.0 500.9L2352.5 501.6L2353.0 505.2L2353.5 505.3L2354.0 497.4L2354.5 503.9L2355.0 504.3L2355.5 499.9L2356.0 495.4L2356.5 501.5L2357.0 496.5L2357.5 500.5L2358.0 497.4L2358.5 500.0L2359.0 495.9L2359.5 498.3L2360.0 498.9L2360.5 500.2L2361.0 495.8L2361.5 504.1L2362.0 497.2L2362.5 497.7L2363.0 497.5L2363.5 495.8L2364.0 499.9L2364.5 504.0L2365.0 503.6L2365.5 498.5L2366.0 498.1L2366.5 500.4L2367.0 505.5L2367.5 502.9L2368.0 507.9L2368.5 505.5L2369.0 505.6L2369.5 507.6L2370.0 507.8L2370.5 503.9L2371.0 503.3L2371.5 505.4L2372.0 506.2L2372.5 502.6L2373.0 505.9L2373.5 508.0L2374.0 502.4L2374.5 502.2L2375.0 502.3L2375.5 503.2L2376.0 509.9L2376.5 499.6L2377.0 500.8L2377.5 500.0L2378.0 502.5L2378.5 497.3L2379.0 501.1L2379.5 497.4L2380.0 497.8L2380.5 502.2L2381.0 495.5L2381.5 499.1L2382.0 496.2L2382.5 495.6L2383.0 499.0L2383.5 491.7L2384.0 498.9L2384.5 498.0L2385.0 495.0L2385.5 488.1L2386.0 493.6L2386.5 492.3L2387.0 493.3L2387.5 487.0L2388.0 493.8L2388.5 492.5L2389.0 484.0L2389.5 485.4L2390.0 482.0L2390.5 489.9L2391.0 490.4L2391.5 490.9L2392.0 486.5L2392.5 486.8L2393.0 486.6L2393.5 485.1L2394.0 488.9L2394.5 485.0L2395.0 481.9L2395.5 483.6L2396.0 478.2L2396.5 485.7L2397.0 485.4L2397.5 482.5L2398.0 487.3L2398.5 486.6L2399.0 482.4L2399.5 480.1L2400.0 481.2L2400.5 482.2L2401.0 483.9L2401.5 485.9L2402.0 491.4L2402.5 485.3L2403.0 492.2L2403.5 490.9L2404.0 493.4L2404.5 490.1L2405.0 487.3L2405.5 495.7L2406.0 491.5L2406.5 491.5L2407.0 498.6L2407.5 498.5L2408.0 495.0L2408.5 496.5L2409.0 503.8L2409.5 498.5L2410.0 503.6L2410.5 499.3L2411.0 506.6L2411.5 501.2L2412.0 505.9L2412.5 502.5L2413.0 508.3L2413.5 512.1L2414.0 506.1L2414.5 508.8L2415.0 514.4L2415.5 514.0L2416.0 512.2L2416.5 516.2L2417.0 515.5L2417.5 520.3L2418.0 515.9L2418.5 521.3L2419.0 521.1L2419.5 523.0L2420.0 520.5L2420.5 524.7L2421.0 525.3L2421.5 523.3L2422.0 520.7L2422.5 530.6L2423.0 529.1L2423.5 525.1L2424.0 531.0L2424.5 527.5L2425.0 530.2L2425.5 534.8L2426.0 531.7L2426.5 531.1L2427.0 532.1L2427.5 530.7L2428.0 532.9L2428.5 534.3L2429.0 534.2L2429.5 534.0L2430.0 538.7L2430.5 537.1L2431.0 543.0L2431.5 545.7L2432.0 540.2L2432.5 544.0L2433.0 544.2L2433.5 541.0L2434.0 542.3L2434.5 550.5L2435.0 547.5L2435.5 551.5L2436.0 545.3L2436.5 551.3L2437.0 554.8L2437.5 555.7L2438.0 548.2L2438.5 554.1L2439.0 553.4L2439.5 558.1L2440.0 552.1L2440.5 554.8L2441.0 561.0L2441.5 558.3L2442.0 558.8L2442.5 564.7L2443.0 558.8L2443.5 556.5L2444.0 560.7L2444.5 558.8L2445.0 558.6L2445.5 564.2L2446.0 568.7L2446.5 565.3L2447.0 566.5L2447.5 563.7L2448.0 566.7L2448.5 569.0L2449.0 567.7L2449.5 570.4L2450.0 568.0L2450.5 564.5L2451.0 568.9L2451.5 568.1L2452.0 564.8L2452.5 569.9L2453.0 572.2L2453.5 565.1L2454.0 569.7L2454.5 571.9L2455.0 568.5L2455.5 567.2L2456.0 568.4L2456.5 570.3L2457.0 572.0L2457.5 570.6L2458.0 565.8L2458.5 573.4L2459.0 574.5L2459.5 565.5L2460.0 566.9L2460.5 565.8L2461.0 572.8L2461.5 573.1L2462.0 563.6L2462.5 566.3L2463.0 564.4L2463.5 566.9L2464.0 571.3L2464.5 561.9L2465.0 562.6L2465.5 565.4L2466.0 565.3L2466.5 567.0L2467.0 563.2L2467.5 559.5L2468.0 560.9L2468.5 566.1L2469.0 562.9L2469.5 556.0L2470.0 561.3L2470.5 555.7L2471.0 558.2L2471.5 550.9L2472.0 554.4L2472.5 548.0L2473.0 546.9L2473.5 545.1L2474.0 541.4L2474.5 536.8L2475.0 533.5L2475.5 531.0L2476.0 526.8L2476.5 524.4L2477.0 521.0L2477.5 519.7L2478.0 516.5L2478.5 515.1L2479.0 511.0L2479.5 507.1L2480.0 506.1L2480.5 505.7L2481.0 500.5L2481.5 498.4L2482.0 497.0L2482.5 492.4L2483.0 490.8L2483.5 487.1L2484.0 481.1L2484.5 477.7L2485.0 471.7L2485.5 466.4L2486.0 461.7L2486.5 456.5L2487.0 451.7L2487.5 444.7L2488.0 440.4L2488.5 434.7L2489.0 428.9L2489.5 426.3L2490.0 421.0L2490.5 415.0L2491.0 412.2L2491.5 405.6L2492.0 401.2L2492.5 397.8L2493.0 396.7L2493.5 389.7L2494.0 391.5L2494.5 387.3L2495.0 381.8L2495.5 382.2L2496.0 379.3L2496.5 378.1L2497.0 378.2L2497.5 376.8L2498.0 379.9L2498.5 371.2L2499.0 378.3L2499.5 377.0L2500.0 381.5L2500.5 384.7L2501.0 388.2L2501.5 388.8L2502.0 392.9L2502.5 398.0L2503.0 401.3L2503.5 402.9L2504.0 408.5L2504.5 411.8L2505.0 417.2L2505.5 424.5L2506.0 432.9L2506.5 443.2L2507.0 454.5L2507.5 466.7L2508.0 479.2L2508.5 491.7L2509.0 504.2L2509.5 515.6L2510.0 526.2L2510.5 536.5L2511.0 546.2L2511.5 556.1L2512.0 566.0L2512.5 575.8L2513.0 585.8L2513.5 595.2L2514.0 604.7L2514.5 614.4L2515.0 623.5L2515.5 632.8L2516.0 642.5L2516.5 651.8L2517.0 661.0L2517.5 671.0L2518.0 680.4L2518.5 690.5L2519.0 700.3L2519.5 709.4L2520.0 718.4L2520.5 727.0L2521.0 734.7L2521.5 741.0L2522.0 747.9L2522.5 752.4L2523.0 759.4L2523.5 761.8L2524.0 765.7L2524.5 769.0L2525.0 776.8L2525.5 771.2L2526.0 772.2L2526.5 770.5L2527.0 766.3L2527.5 759.5L2528.0 754.0L2528.5 747.0L2529.0 740.2L2529.5 732.8L2530.0 725.7L2530.5 718.1L2531.0 710.7L2531.5 703.6L2532.0 695.3L2532.5 687.5L2533.0 679.5L2533.5 671.0L2534.0 662.5L2534.5 654.6L2535.0 645.3L2535.5 636.1L2536.0 626.9L2536.5 616.5L2537.0 606.2L2537.5 595.9L2538.0 584.9L2538.5 573.8L2539.0 562.4L2539.5 551.5L2540.0 540.5L2540.5 530.0L2541.0 519.5L2541.5 509.8L2542.0 500.4L2542.5 490.1L2543.0 480.2L2543.5 470.8L2544.0 460.6L2544.5 450.9L2545.0 441.4L2545.5 433.1L2546.0 424.6L2546.5 416.7L2547.0 409.7L2547.5 402.5L2548.0 397.0L2548.5 392.2L2549.0 388.2L2549.5 383.6L2550.0 379.5L2550.5 376.1L2551.0 370.8L2551.5 373.7L2552.0 366.0L2552.5 364.5L2553.0 369.6L2553.5 371.0L2554.0 371.5L2554.5 371.2L2555.0 372.2L2555.5 374.0L2556.0 380.8L2556.5 384.0L2557.0 384.4L2557.5 390.2L2558.0 392.7L2558.5 396.6L2559.0 401.3L2559.5 404.3L2560.0 409.9L2560.5 414.1L2561.0 420.2L2561.5 424.9L2562.0 430.8L2562.5 436.3L2563.0 440.6L2563.5 446.1L2564.0 452.8L2564.5 457.6L2565.0 462.3L2565.5 467.6L2566.0 474.8L2566.5 479.2L2567.0 483.2L2567.5 489.0L2568.0 493.9L2568.5 498.7L2569.0 504.8L2569.5 509.9L2570.0 513.1L2570.5 518.0L2571.0 523.4L2571.5 529.0L2572.0 532.8L2572.5 537.2L2573.0 540.4L2573.5 542.0L2574.0 547.7L2574.5 546.0L2575.0 552.2L2575.5 551.3L2576.0 555.0L2576.5 560.5L2577.0 558.9L2577.5 556.3L2578.0 560.7L2578.5 564.0L2579.0 559.8L2579.5 562.5L2580.0 560.9L2580.5 566.7L2581.0 565.2L2581.5 566.3L2582.0 563.7L2582.5 566.2L2583.0 560.8L2583.5 565.7L2584.0 564.6L2584.5 559.4L2585.0 557.7L2585.5 559.3L2586.0 553.3L2586.5 555.0L2587.0 549.5L2587.5 550.1L2588.0 545.5L2588.5 544.9L2589.0 544.5L2589.5 537.0L2590.0 539.4L2590.5 535.7L2591.0 532.6L2591.5 530.6L2592.0 526.8L2592.5 526.4L2593.0 527.2L2593.5 521.7L2594.0 524.0L2594.5 524.4L2595.0 522.9L2595.5 520.5L2596.0 518.3L2596.5 511.9L2597.0 516.5L2597.5 508.9L2598.0 513.0L2598.5 511.8L2599.0 508.4L2599.5 506.4L2600.0 502.4L2600.5 504.4L2601.0 501.3L2601.5 498.9L2602.0 498.1L2602.5 504.0L2603.0 504.6L2603.5 496.0L2604.0 494.1L2604.5 496.0L2605.0 494.1L2605.5 494.2L2606.0 497.9L2606.5 495.9L2607.0 495.7L2607.5 493.1L2608.0 497.9L2608.5 493.7L2609.0 494.7L2609.5 495.2L2610.0 499.8L2610.5 492.6L2611.0 497.5L2611.5 493.0L2612.0 499.2L2612.5 493.7L2613.0 494.8L2613.5 498.8L2614.0 496.5L2614.5 490.2L2615.0 490.6L2615.5 499.8L2616.0 489.4L2616.5 492.4L2617.0 499.5L2617.5 489.3L2618.0 490.9L2618.5 491.5L2619.0 490.2L2619.5 494.5L2620.0 495.8L2620.5 493.0L2621.0 490.8L2621.5 498.5L2622.0 498.5L2622.5 496.1L2623.0 491.6L2623.5 496.1L2624.0 497.2L2624.5 495.2L2625.0 500.1L2625.5 495.1L2626.0 496.6L2626.5 492.7L2627.0 497.9L2627.5 500.5L2628.0 500.9L2628.5 497.3L2629.0 505.1L2629.5 503.8L2630.0 502.5L2630.5 503.8L2631.0 508.2L2631.5 504.8L2632.0 510.0L2632.5 512.2L2633.0 512.2L2633.5 516.5L2634.0 515.0L2634.5 516.5L2635.0 516.5L2635.5 523.1L2636.0 519.7L2636.5 524.2L2637.0 523.6L2637.5 529.2L2638.0 530.9L2638.5 526.1L2639.0 534.7L2639.5 533.8L2640.0 532.0L2640.5 536.8L2641.0 535.6L2641.5 540.9L2642.0 540.3L2642.5 543.5L2643.0 544.9L2643.5 548.9L2644.0 552.3L2644.5 554.9L2645.0 552.4L2645.5 555.9L2646.0 553.4L2646.5 557.8L2647.0 563.9L2647.5 558.9L2648.0 566.4L2648.5 566.1L2649.0 564.6L2649.5 570.0L2650.0 567.5L2650.5 573.9L2651.0 568.6L2651.5 570.2L2652.0 576.8L2652.5 575.5L2653.0 574.0L2653.5 578.4L2654.0 577.3L2654.5 580.7L2655.0 583.4L2655.5 585.3L2656.0 578.2L2656.5 584.3L2657.0 588.9L2657.5 584.4L2658.0 588.2L2658.5 581.9L2659.0 590.5L2659.5 587.9L2660.0 591.5L2660.5 590.6L2661.0 591.5L2661.5 582.6L2662.0 589.3L2662.5 583.5L2663.0 583.7L2663.5 583.8L2664.0 585.8L2664.5 585.5L2665.0 587.8L2665.5 577.9L2666.0 579.0L2666.5 579.9L2667.0 583.5L2667.5 580.0L2668.0 578.6L2668.5 579.8L2669.0 577.7L2669.5 573.3L2670.0 570.3L2670.5 572.2L2671.0 574.3L2671.5 570.5L2672.0 564.8L2672.5 566.0L2673.0 563.8L2673.5 563.1L2674.0 560.9L2674.5 560.8L2675.0 554.9L2675.5 552.8L2676.0 551.4L2676.5 550.2L2677.0 546.6L2677.5 542.7L2678.0 541.7L2678.5 537.3L2679.0 536.9L2679.5 530.9L2680.0 527.4L2680.5 528.2L2681.0 522.8L2681.5 523.1L2682.0 519.3L2682.5 516.3L2683.0 511.6L2683.5 512.9L2684.0 506.5L2684.5 508.7L2685.0 505.6L2685.5 500.1L2686.0 496.5L2686.5 498.0L2687.0 493.3L2687.5 488.9L2688.0 488.6L2688.5 484.8L2689.0 483.5L2689.5 482.9L2690.0 482.9L2690.5 480.4L2691.0 474.0L2691.5 474.5L2692.0 472.9L2692.5 475.1L2693.0 466.5L2693.5 468.6L2694.0 471.2L2694.5 465.5L2695.0 463.4L2695.5 465.6L2696.0 462.6L2696.5 468.4L2697.0 459.1L2697.5 460.3L2698.0 459.3L2698.5 466.3L2699.0 462.7L2699.5 469.4L2700.0 470.1L2700.5 471.4L2701.0 465.6L2701.5 464.1L2702.0 468.8L2702.5 475.1L2703.0 474.3L2703.5 469.4L2704.0 476.2L2704.5 479.3L2705.0 481.0L2705.5 480.3L2706.0 482.9L2706.5 484.1L2707.0 481.6L2707.5 481.0L2708.0 487.5L2708.5 484.5L2709.0 488.2L2709.5 494.3L2710.0 493.1L2710.5 494.9L2711.0 499.7L2711.5 497.4L2712.0 504.1L2712.5 505.6L2713.0 503.9L2713.5 505.5L2714.0 505.8L2714.5 513.3L2715.0 509.2L2715.5 509.0L2716.0 517.9L2716.5 516.3L2717.0 517.9L2717.5 519.2L2718.0 512.7L2718.5 513.8L2719.0 518.5L2719.5 514.4L2720.0 519.6L2720.5 522.5L2721.0 522.1L2721.5 522.1L2722.0 516.5L2722.5 518.8L2723.0 526.2L2723.5 518.3L2724.0 522.9L2724.5 518.0L2725.0 527.7L2725.5 519.7L2726.0 522.4L2726.5 524.0L2727.0 526.0L2727.5 528.4L2728.0 526.3L2728.5 522.2L2729.0 519.3L2729.5 526.2L2730.0 529.1L2730.5 518.9L2731.0 527.1L2731.5 520.7L2732.0 523.8L2732.5 524.5L2733.0 525.5L2733.5 529.6L2734.0 526.4L2734.5 523.2L2735.0 526.7L2735.5 524.1L2736.0 523.6L2736.5 523.1L2737.0 524.6L2737.5 522.3L2738.0 522.0L2738.5 521.1L2739.0 524.3L2739.5 522.9L2740.0 528.9L2740.5 529.3L2741.0 524.3L2741.5 527.6L2742.0 531.0L2742.5 525.8L2743.0 528.4L2743.5 527.9L2744.0 530.6L2744.5 534.4L2745.0 526.9L2745.5 535.8L2746.0 533.6L2746.5 535.7L2747.0 534.9L2747.5 538.0L2748.0 533.5L2748.5 538.1L2749.0 534.6L2749.5 537.9L2750.0 540.4L2750.5 536.5L2751.0 536.0L2751.5 543.9L2752.0 544.9L2752.5 544.3L2753.0 542.0L2753.5 546.1L2754.0 541.8L2754.5 548.2L2755.0 548.4L2755.5 549.9L2756.0 549.5L2756.5 548.6L2757.0 554.2L2757.5 553.0L2758.0 556.7L2758.5 554.3L2759.0 552.9L2759.5 558.1L2760.0 559.8L2760.5 563.7L2761.0 564.3L2761.5 557.2L2762.0 565.0L2762.5 560.7L2763.0 565.8L2763.5 563.3L2764.0 563.4L2764.5 565.8L2765.0 566.9L2765.5 569.2L2766.0 569.2L2766.5 570.2L2767.0 567.7L2767.5 571.2L2768.0 568.2L2768.5 571.3L2769.0 570.1L2769.5 571.4L2770.0 565.9L2770.5 571.3L2771.0 568.6L2771.5 570.6L2772.0 567.4L2772.5 573.9L2773.0 576.6L2773.5 570.9L2774.0 568.2L2774.5 573.8L2775.0 568.4L2775.5 576.5L2776.0 568.0L2776.5 570.3L2777.0 571.4L2777.5 567.1L2778.0 568.8L2778.5 567.9L2779.0 572.1L2779.5 574.5L2780.0 567.6L2780.5 571.6L2781.0 564.3L2781.5 568.3L2782.0 566.3L2782.5 564.2L2783.0 568.9L2783.5 567.4L2784.0 560.6L2784.5 561.4L2785.0 565.6L2785.5 566.3L2786.0 561.7L2786.5 563.1L2787.0 562.7L2787.5 559.2L2788.0 556.9L2788.5 552.0L2789.0 551.5L2789.5 551.5L2790.0 551.7L2790.5 545.5L2791.0 544.1L2791.5 539.7L2792.0 541.9L2792.5 538.2L2793.0 538.4L2793.5 532.7L2794.0 533.4L2794.5 531.5L2795.0 528.1L2795.5 524.3L2796.0 523.9L2796.5 524.3L2797.0 518.7L2797.5 516.0L2798.0 516.4L2798.5 512.9L2799.0 514.5L2799.5 512.5L2800.0 511.3L2800.5 508.6L2801.0 505.4L2801.5 500.3L2802.0 502.9L2802.5 500.4L2803.0 498.9L2803.5 497.0L2804.0 496.6L2804.5 490.9L2805.0 492.8L2805.5 490.3L2806.0 487.6L2806.5 486.4L2807.0 483.7L2807.5 485.9L2808.0 483.8L2808.5 483.5L2809.0 487.1L2809.5 484.8L2810.0 484.4L2810.5 487.2L2811.0 478.7L2811.5 481.4L2812.0 476.7L2812.5 479.6L2813.0 485.5L2813.5 476.0L2814.0 483.3L2814.5 484.6L2815.0 481.2L2815.5 484.6L2816.0 481.5L2816.5 481.3L2817.0 483.6L2817.5 481.2L2818.0 483.1L2818.5 484.0L2819.0 491.3L2819.5 486.6L2820.0 487.1L2820.5 494.3L2821.0 489.4L2821.5 497.5L2822.0 498.1L2822.5 498.0L2823.0 497.7L2823.5 497.0L2824.0 497.4L2824.5 498.6L2825.0 502.0L2825.5 503.8L2826.0 509.5L2826.5 507.4L2827.0 512.6L2827.5 511.5L2828.0 507.5L2828.5 512.3L2829.0 509.6L2829.5 509.4L2830.0 519.0L2830.5 513.7L2831.0 512.8L2831.5 512.5L2832.0 518.7L2832.5 517.3L2833.0 513.1L2833.5 520.9L2834.0 516.6L2834.5 522.5L2835.0 519.8L2835.5 520.6L2836.0 519.9L2836.5 522.4L2837.0 525.8L2837.5 523.5L2838.0 515.5L2838.5 519.6L2839.0 516.4L2839.5 514.6L2840.0 514.9L2840.5 514.8L2841.0 521.3L2841.5 518.5L2842.0 518.8L2842.5 516.4L2843.0 511.8L2843.5 511.5L2844.0 510.9L2844.5 508.4L2845.0 508.3L2845.5 510.1L2846.0 502.9L2846.5 503.4L2847.0 503.6L2847.5 503.6L2848.0 501.8L2848.5 500.6L2849.0 494.4L2849.5 493.2L2850.0 492.3L2850.5 490.2L2851.0 491.6L2851.5 491.3L2852.0 487.3L2852.5 480.9L2853.0 480.8L2853.5 482.5L2854.0 481.5L2854.5 477.4L2855.0 473.9L2855.5 472.3L2856.0 472.8L2856.5 473.2L2857.0 467.5L2857.5 464.9L2858.0 461.9L2858.5 461.6L2859.0 466.0L2859.5 462.8L2860.0 464.5L2860.5 455.4L2861.0 456.6L2861.5 459.1L2862.0 456.8L2862.5 450.3L2863.0 452.4L2863.5 453.8L2864.0 453.5L2864.5 450.5L2865.0 447.2L2865.5 454.6L2866.0 448.9L2866.5 451.0L2867.0 448.6L2867.5 443.4L2868.0 444.7L2868.5 442.5L2869.0 443.7L2869.5 443.8L2870.0 446.2L2870.5 445.7L2871.0 446.8L2871.5 452.0L2872.0 445.4L2872.5 447.2L2873.0 454.8L2873.5 453.3L2874.0 453.6L2874.5 453.4L2875.0 457.1L2875.5 456.2L2876.0 462.6L2876.5 464.0L2877.0 462.6L2877.5 462.9L2878.0 470.3L2878.5 469.2L2879.0 473.6L2879.5 477.2L2880.0 480.0L2880.5 483.6L2881.0 486.4L2881.5 491.6L2882.0 495.1L2882.5 499.3L2883.0 504.7L2883.5 509.3L2884.0 515.2L2884.5 520.4L2885.0 523.8L2885.5 528.7L2886.0 533.9L2886.5 538.7L2887.0 544.3L2887.5 548.7L2888.0 553.1L2888.5 556.9L2889.0 561.2L2889.5 564.5L2890.0 569.1L2890.5 572.4L2891.0 579.0L2891.5 581.6L2892.0 585.0L2892.5 589.7L2893.0 593.5L2893.5 598.5L2894.0 600.0L2894.5 604.5L2895.0 610.5L2895.5 614.0L2896.0 616.4L2896.5 618.9L2897.0 619.4L2897.5 625.5L2898.0 627.0L2898.5 627.3L2899.0 625.6L2899.5 626.4L2900.0 628.1L2900.5 627.0L2901.0 623.8L2901.5 624.7L2902.0 622.9L2902.5 619.8L2903.0 617.8L2903.5 614.0L2904.0 609.9L2904.5 605.7L2905.0 600.5L2905.5 595.0L2906.0 591.8L2906.5 586.3L2907.0 581.2L2907.5 576.6L2908.0 571.4L2908.5 566.3L2909.0 561.0L2909.5 555.5L2910.0 550.5L2910.5 544.2L2911.0 540.6L2911.5 534.9L2912.0 530.5L2912.5 525.8L2913.0 522.3L2913.5 517.0L2914.0 514.6L2914.5 510.8L2915.0 506.9L2915.5 500.9L2916.0 499.0L2916.5 496.2L2917.0 489.7L2917.5 487.2L2918.0 484.7L2918.5 483.1L2919.0 479.0L2919.5 478.6L2920.0 475.1L2920.5 474.9L2921.0 472.2L2921.5 471.8L2922.0 466.7L2922.5 470.0L2923.0 469.6L2923.5 468.8L2924.0 461.5L2924.5 470.1L2925.0 465.9L2925.5 462.5L2926.0 464.5L2926.5 465.9L2927.0 466.7L2927.5 465.3L2928.0 466.7L2928.5 468.9L2929.0 473.5L2929.5 473.2L2930.0 473.8L2930.5 478.7L2931.0 480.7L2931.5 483.3L2932.0 490.4L2932.5 491.0L2933.0 495.3L2933.5 498.5L2934.0 501.7L2934.5 508.3L2935.0 512.8L2935.5 515.4L2936.0 520.6L2936.5 525.2L2937.0 529.4L2937.5 535.2L2938.0 540.1L2938.5 544.4L2939.0 548.5L2939.5 550.4L2940.0 554.7L2940.5 559.2L2941.0 563.4L2941.5 565.8L2942.0 569.6L2942.5 574.5L2943.0 574.8L2943.5 579.0L2944.0 582.3L2944.5 588.4L2945.0 587.8L2945.5 589.4L2946.0 593.8L2946.5 597.4L2947.0 595.9L2947.5 602.7L2948.0 599.0L2948.5 604.6L2949.0 601.4L2949.5 608.9L2950.0 603.7L2950.5 609.7L2951.0 611.5L2951.5 605.3L2952.0 603.5L2952.5 607.5L2953.0 605.5L2953.5 603.8L2954.0 604.0L2954.5 599.8L2955.0 598.0L2955.5 595.2L2956.0 591.2L2956.5 586.5L2957.0 580.9L2957.5 575.9L2958.0 570.6L2958.5 565.8L2959.0 563.7L2959.5 557.8L2960.0 554.7L2960.5 552.8L2961.0 548.7L2961.5 545.4L2962.0 543.0L2962.5 540.7L2963.0 538.8L2963.5 537.6L2964.0 534.5L2964.5 529.7L2965.0 527.3L2965.5 524.6L2966.0 521.2L2966.5 522.9L2967.0 515.5L2967.5 514.0L2968.0 514.2L2968.5 511.5L2969.0 507.3L2969.5 508.9L2970.0 503.5L2970.5 502.5L2971.0 497.2L2971.5 500.4L2972.0 493.1L2972.5 493.3L2973.0 495.3L2973.5 494.4L2974.0 492.9L2974.5 491.1L2975.0 484.7L2975.5 481.8L2976.0 484.7L2976.5 480.0L2977.0 487.8L2977.5 477.7L2978.0 480.0L2978.5 478.1L2979.0 475.5L2979.5 479.9L2980.0 475.1L2980.5 483.3L2981.0 480.6L2981.5 476.9L2982.0 481.6L2982.5 480.9L2983.0 475.7L2983.5 481.3L2984.0 482.2L2984.5 479.2L2985.0 476.8L2985.5 483.0L2986.0 483.9L2986.5 478.4L2987.0 476.3L2987.5 484.8L2988.0 483.4L2988.5 479.8L2989.0 483.9L2989.5 482.2L2990.0 488.9L2990.5 484.2L2991.0 483.8L2991.5 483.3L2992.0 487.0L2992.5 494.1L2993.0 487.7L2993.5 490.9L2994.0 496.7L2994.5 488.5L2995.0 492.2L2995.5 498.1L2996.0 492.3L2996.5 501.1L2997.0 501.2L2997.5 495.9L2998.0 501.1L2998.5 501.8L2999.0 504.1L2999.5 501.6L3000.0 503.4L3000.5 503.2L3001.0 504.7L3001.5 504.6L3002.0 512.4L3002.5 513.3L3003.0 509.4L3003.5 513.5L3004.0 512.6L3004.5 511.5L3005.0 513.1L3005.5 519.9L3006.0 514.8L3006.5 517.9L3007.0 522.3L3007.5 516.9L3008.0 522.7L3008.5 516.7L3009.0 523.6L3009.5 525.1L3010.0 526.2L3010.5 528.4L3011.0 526.6L3011.5 530.0L3012.0 523.9L3012.5 527.0L3013.0 524.7L3013.5 524.2L3014.0 528.4L3014.5 532.0L3015.0 533.2L3015.5 526.3L3016.0 536.3L3016.5 529.9L3017.0 531.0L3017.5 537.1L3018.0 538.4L3018.5 537.4L3019.0 533.9L3019.5 535.8L3020.0 540.2L3020.5 535.9L3021.0 541.1L3021.5 541.4L3022.0 538.8L3022.5 543.7L3023.0 539.0L3023.5 543.3L3024.0 542.6L3024.5 539.9L3025.0 542.4L3025.5 543.6L3026.0 543.2L3026.5 539.1L3027.0 548.7L3027.5 548.8L3028.0 539.1L3028.5 549.1L3029.0 545.0L3029.5 540.9L3030.0 548.6L3030.5 544.7L3031.0 547.9L3031.5 549.4L3032.0 546.4L3032.5 541.3L3033.0 549.8L3033.5 548.5L3034.0 550.9L3034.5 544.0L3035.0 549.5L3035.5 550.4L3036.0 544.7L3036.5 545.1L3037.0 544.0L3037.5 540.3L3038.0 542.4L3038.5 543.1L3039.0 540.4L3039.5 547.0L3040.0 543.0L3040.5 544.1L3041.0 540.7L3041.5 541.1L3042.0 544.7L3042.5 541.2L3043.0 541.9L3043.5 539.5L3044.0 540.1L3044.5 542.7L3045.0 535.7L3045.5 537.4L3046.0 538.2L3046.5 531.6L3047.0 539.2L3047.5 533.8L3048.0 530.5L3048.5 534.2L3049.0 533.5L3049.5 530.7L3050.0 532.0L3050.5 523.6L3051.0 526.1L3051.5 526.6L3052.0 526.8L3052.5 523.2L3053.0 521.5L3053.5 518.4L3054.0 518.7L3054.5 517.3L3055.0 519.2L3055.5 517.4L3056.0 515.6L3056.5 516.3L3057.0 507.3L3057.5 513.1L3058.0 509.3L3058.5 511.3L3059.0 506.1L3059.5 507.0L3060.0 509.7L3060.5 501.2L3061.0 503.0L3061.5 504.3L3062.0 507.4L3062.5 500.9L3063.0 506.1L3063.5 499.6L3064.0 499.9L3064.5 502.3L3065.0 503.0L3065.5 505.2L3066.0 504.9L3066.5 497.9L3067.0 503.1L3067.5 501.7L3068.0 498.9L3068.5 503.0L3069.0 504.3L3069.5 499.8L3070.0 504.7L3070.5 496.5L3071.0 497.3L3071.5 504.0L3072.0 499.7L3072.5 503.2L3073.0 502.8L3073.5 499.8L3074.0 506.6L3074.5 507.1L3075.0 502.0L3075.5 504.1L3076.0 510.2L3076.5 512.2L3077.0 513.0L3077.5 511.0L3078.0 511.0L3078.5 512.9L3079.0 511.7L3079.5 515.6L3080.0 514.2L3080.5 514.7L3081.0 517.8L3081.5 516.1L3082.0 520.8L3082.5 524.0L3083.0 524.8L3083.5 528.8L3084.0 529.2L3084.5 528.1L3085.0 531.6L3085.5 528.6L3086.0 532.9L3086.5 529.2L3087.0 532.5L3087.5 537.7L3088.0 535.1L3088.5 535.1L3089.0 538.7L3089.5 534.8L3090.0 540.7L3090.5 533.0L3091.0 535.8L3091.5 535.7L3092.0 537.1L3092.5 544.8L3093.0 535.8L3093.5 539.1L3094.0 542.5L3094.5 544.3L3095.0 545.5L3095.5 541.8L3096.0 540.4L3096.5 547.5L3097.0 540.0L3097.5 539.6L3098.0 541.5L3098.5 544.4L3099.0 549.3L3099.5 546.9L3100.0 545.1L3100.5 544.5L3101.0 546.2L3101.5 545.4L3102.0 542.1L3102.5 539.2L3103.0 540.2L3103.5 546.2L3104.0 544.4L3104.5 545.9L3105.0 537.6L3105.5 546.5L3106.0 540.7L3106.5 546.3L3107.0 542.5L3107.5 541.8L3108.0 544.4L3108.5 542.1L3109.0 542.3L3109.5 536.5L3110.0 541.0L3110.5 538.1L3111.0 534.8L3111.5 535.1L3112.0 538.5L3112.5 535.9L3113.0 541.0L3113.5 533.9L3114.0 532.5L3114.5 542.7L3115.0 535.2L3115.5 537.0L3116.0 533.6L3116.5 533.3L3117.0 535.1L3117.5 539.0L3118.0 530.8L3118.5 539.0L3119.0 540.4L3119.5 535.6L3120.0 533.2L3120.5 531.6L3121.0 530.8L3121.5 532.1L3122.0 537.5L3122.5 528.2L3123.0 536.3L3123.5 534.8L3124.0 527.6L3124.5 527.9L3125.0 534.8L3125.5 533.8L3126.0 529.7L3126.5 535.3L3127.0 528.1L3127.5 530.2L3128.0 526.6L3128.5 532.0L3129.0 525.7L3129.5 526.4L3130.0 532.4L3130.5 529.3L3131.0 530.7L3131.5 531.2L3132.0 529.6L3132.5 524.9L3133.0 529.9L3133.5 523.4L3134.0 524.8L3134.5 526.4L3135.0 522.5L3135.5 522.1L3136.0 527.6L3136.5 528.3L3137.0 524.0L3137.5 523.9L3138.0 521.7L3138.5 524.7L3139.0 525.0L3139.5 528.5L3140.0 518.7L3140.5 527.6L3141.0 528.2L3141.5 521.0L3142.0 524.7L3142.5 525.5L3143.0 523.3L3143.5 519.2L3144.0 522.4L3144.5 524.8L3145.0 516.3L3145.5 520.0L3146.0 514.8L3146.5 523.3L3147.0 522.3L3147.5 514.2L3148.0 521.3L3148.5 520.4L3149.0 514.1L3149.5 518.0L3150.0 519.5L3150.5 515.4L3151.0 516.9L3151.5 521.6L3152.0 517.6L3152.5 515.9L3153.0 511.0L3153.5 511.2L3154.0 518.7L3154.5 517.3L3155.0 517.9L3155.5 514.9L3156.0 514.6L3156.5 513.8L3157.0 515.7L3157.5 511.1L3158.0 512.6L3158.5 512.0L3159.0 513.8L3159.5 508.7L3160.0 506.4L3160.5 506.8L3161.0 507.5L3161.5 514.5L3162.0 512.8L3162.5 512.9L3163.0 509.4L3163.5 505.5L3164.0 509.1L3164.5 513.2L3165.0 509.2L3165.5 510.3L3166.0 507.3L3166.5 504.6L3167.0 509.5L3167.5 507.8L3168.0 506.1L3168.5 504.9L3169.0 509.4L3169.5 505.1L3170.0 507.6L3170.5 504.0L3171.0 509.0L3171.5 504.7L3172.0 505.6L3172.5 510.1L3173.0 507.6L3173.5 507.5L3174.0 503.0L3174.5 508.1L3175.0 502.9L3175.5 509.0L3176.0 507.7L3176.5 504.8L3177.0 506.2L3177.5 502.7L3178.0 504.2L3178.5 497.4L3179.0 505.9L3179.5 503.5L3180.0 496.1L3180.5 496.8L3181.0 499.9L3181.5 501.6L3182.0 494.7L3182.5 503.2L3183.0 496.4L3183.5 503.1L3184.0 500.3L3184.5 497.3L3185.0 495.8L3185.5 492.8L3186.0 492.6L3186.5 498.4L3187.0 500.0L3187.5 501.6L3188.0 496.2L3188.5 502.6L3189.0 496.7L3189.5 503.8L3190.0 504.3L3190.5 497.4L3191.0 505.1L3191.5 504.2L3192.0 504.9L3192.5 507.0L3193.0 504.9L3193.5 505.4L3194.0 505.0L3194.5 510.6L3195.0 511.9L3195.5 505.7L3196.0 512.4L3196.5 508.6L3197.0 508.6L3197.5 509.7L3198.0 514.2L3198.5 512.4L3199.0 513.1L3199.5 512.7L3200.0 515.9L3200.5 521.0L3201.0 515.1L3201.5 520.3L3202.0 522.5L3202.5 518.3L3203.0 521.5L3203.5 528.3L3204.0 530.1L3204.5 529.6L3205.0 523.9L3205.5 530.5L3206.0 528.3L3206.5 526.3L3207.0 530.1L3207.5 535.2L3208.0 535.4L3208.5 531.3L3209.0 528.7L3209.5 537.8L3210.0 539.3L3210.5 535.0L3211.0 532.5L3211.5 536.2L3212.0 538.1L3212.5 536.0L3213.0 534.8L3213.5 533.9L3214.0 534.6L3214.5 532.0L3215.0 534.3L3215.5 541.9L3216.0 531.6L3216.5 539.2L3217.0 539.4L3217.5 535.0L3218.0 536.4L3218.5 532.0L3219.0 535.9L3219.5 535.7L3220.0 535.4L3220.5 532.3L3221.0 536.2L3221.5 534.3L3222.0 530.5L3222.5 530.6L3223.0 525.8L3223.5 531.0L3224.0 527.3L3224.5 528.7L3225.0 522.0L3225.5 527.8L3226.0 518.5L3226.5 521.9L3227.0 517.0L3227.5 516.9L3228.0 521.8L3228.5 514.1L3229.0 516.5L3229.5 513.9L3230.0 519.7L3230.5 511.3L3231.0 513.3L3231.5 518.0L3232.0 515.8L3232.5 515.5L3233.0 518.2L3233.5 507.6L3234.0 514.1L3234.5 514.6L3235.0 514.3L3235.5 513.6L3236.0 506.5L3236.5 506.4L3237.0 513.6L3237.5 511.8L3238.0 507.9L3238.5 505.2L3239.0 511.0L3239.5 506.6L3240.0 513.9L3240.5 510.1L3241.0 515.4L3241.5 508.6L3242.0 513.3L3242.5 509.8L3243.0 517.4L3243.5 515.7L3244.0 513.0L3244.5 521.0L3245.0 519.0L3245.5 516.4L3246.0 522.2L3246.5 518.5L3247.0 524.8L3247.5 519.7L3248.0 527.1L3248.5 519.6L3249.0 526.8L3249.5 523.8L3250.0 526.2L3250.5 529.2L3251.0 525.5L3251.5 528.5L3252.0 529.0L3252.5 535.6L3253.0 533.1L3253.5 536.8L3254.0 537.1L3254.5 538.1L3255.0 545.0L3255.5 543.4L3256.0 546.2L3256.5 548.2L3257.0 550.7L3257.5 548.0L3258.0 548.0L3258.5 552.6L3259.0 551.6L3259.5 551.8L3260.0 560.5L3260.5 559.7L3261.0 559.5L3261.5 558.8L3262.0 565.3L3262.5 565.0L3263.0 563.5L3263.5 571.5L3264.0 572.7L3264.5 573.8L3265.0 574.2L3265.5 572.6L3266.0 571.3L3266.5 575.5L3267.0 571.3L3267.5 576.7L3268.0 571.9L3268.5 572.0L3269.0 579.7L3269.5 576.5L3270.0 580.6L3270.5 581.8L3271.0 582.6L3271.5 580.2L3272.0 582.4L3272.5 579.9L3273.0 581.9L3273.5 580.7L3274.0 571.6L3274.5 572.8L3275.0 573.0L3275.5 570.7L3276.0 569.1L3276.5 573.6L3277.0 565.4L3277.5 565.1L3278.0 567.4L3278.5 561.9L3279.0 560.2L3279.5 562.8L3280.0 559.4L3280.5 555.3L3281.0 551.2L3281.5 550.1L3282.0 552.3L3282.5 548.8L3283.0 542.3L3283.5 543.6L3284.0 539.3L3284.5 538.7L3285.0 534.0L3285.5 530.6L3286.0 527.5L3286.5 526.4L3287.0 527.0L3287.5 524.7L3288.0 521.1L3288.5 519.1L3289.0 513.6L3289.5 512.1L3290.0 512.3L3290.5 510.0L3291.0 504.6L3291.5 503.5L3292.0 501.7L3292.5 499.5L3293.0 493.3L3293.5 493.1L3294.0 489.3L3294.5 488.0L3295.0 486.4L3295.5 483.5L3296.0 480.0L3296.5 486.0L3297.0 484.4L3297.5 485.0L3298.0 477.5L3298.5 477.6L3299.0 480.9L3299.5 484.3L3300.0 479.2L3300.5 476.5L3301.0 481.1L3301.5 485.4L3302.0 485.2L3302.5 486.4L3303.0 482.9L3303.5 482.7L3304.0 489.3L3304.5 489.6L3305.0 491.4L3305.5 489.8L3306.0 491.2L3306.5 493.1L3307.0 499.1L3307.5 501.6L3308.0 500.7L3308.5 506.0L3309.0 505.2L3309.5 507.7L3310.0 510.4L3310.5 510.3L3311.0 512.7L3311.5 514.7L3312.0 516.8L3312.5 520.5L3313.0 520.0L3313.5 526.4L3314.0 524.6L3314.5 528.3L3315.0 531.6L3315.5 530.2L3316.0 534.0L3316.5 536.9L3317.0 538.6L3317.5 542.9L3318.0 543.8L3318.5 540.8L3319.0 547.7L3319.5 547.4L3320.0 550.0L3320.5 547.7L3321.0 551.7L3321.5 555.0L3322.0 557.2L3322.5 558.5L3323.0 553.7L3323.5 560.6L3324.0 558.7L3324.5 560.4L3325.0 562.9L3325.5 558.9L3326.0 564.7L3326.5 564.6L3327.0 563.8L3327.5 558.9L3328.0 559.9L3328.5 555.7L3329.0 560.5L3329.5 560.7L3330.0 552.9L3330.5 557.3L3331.0 555.7L3331.5 548.8L3332.0 554.9L3332.5 549.8L3333.0 546.7L3333.5 543.3L3334.0 547.4L3334.5 542.4L3335.0 542.0L3335.5 538.0L3336.0 539.5L3336.5 536.3L3337.0 537.6L3337.5 534.7L3338.0 533.3L3338.5 528.2L3339.0 525.0L3339.5 528.8L3340.0 527.3L3340.5 523.5L3341.0 523.7L3341.5 520.4L3342.0 518.1L3342.5 515.0L3343.0 513.0L3343.5 512.7L3344.0 509.1L3344.5 509.6L3345.0 509.0L3345.5 503.6L3346.0 505.6L3346.5 503.4L3347.0 505.5L3347.5 506.2L3348.0 503.5L3348.5 503.3L3349.0 502.2L3349.5 497.9L3350.0 498.8L3350.5 503.4L3351.0 504.1L3351.5 495.7L3352.0 493.6L3352.5 503.6L3353.0 502.4L3353.5 499.7L3354.0 502.1L3354.5 499.9L3355.0 503.6L3355.5 497.1L3356.0 499.7L3356.5 502.6L3357.0 498.5L3357.5 504.2L3358.0 500.1L3358.5 505.3L3359.0 506.9L3359.5 503.8L3360.0 510.2L3360.5 507.4L3361.0 509.5L3361.5 503.3L3362.0 505.1L3362.5 511.7L3363.0 514.8L3363.5 512.9L3364.0 516.5L3364.5 510.5L3365.0 518.8L3365.5 520.0L3366.0 519.4L3366.5 519.3L3367.0 523.0L3367.5 520.8L3368.0 525.7L3368.5 527.3L3369.0 527.4L3369.5 526.3L3370.0 525.1L3370.5 527.8L3371.0 534.7L3371.5 529.8L3372.0 529.5L3372.5 532.0L3373.0 535.5L3373.5 537.1L3374.0 540.7L3374.5 541.3L3375.0 543.2L3375.5 543.0L3376.0 539.1L3376.5 536.2L3377.0 545.2L3377.5 537.8L3378.0 542.3L3378.5 538.8L3379.0 545.0L3379.5 538.7L3380.0 541.2L3380.5 539.2L3381.0 546.3L3381.5 543.8L3382.0 543.9L3382.5 540.5L3383.0 538.9L3383.5 546.2L3384.0 545.1L3384.5 544.6L3385.0 547.2L3385.5 542.4L3386.0 538.1L3386.5 542.5L3387.0 538.8L3387.5 541.0L3388.0 540.3L3388.5 541.2L3389.0 544.8L3389.5 543.5L3390.0 539.1L3390.5 543.3L3391.0 543.6L3391.5 542.5L3392.0 540.0L3392.5 543.6L3393.0 539.1L3393.5 534.8L3394.0 536.5L3394.5 540.5L3395.0 537.4L3395.5 537.7L3396.0 537.4L3396.5 535.0L3397.0 533.8L3397.5 533.3L3398.0 539.9L3398.5 536.0L3399.0 537.4L3399.5 542.5L3400.0 539.1L3400.5 541.0L3401.0 540.4L3401.5 542.5L3402.0 532.8L3402.5 536.2L3403.0 542.3L3403.5 537.0L3404.0 542.2L3404.5 533.9L3405.0 532.5L3405.5 541.5L3406.0 536.2L3406.5 537.2L3407.0 541.8L3407.5 534.0L3408.0 542.1L3408.5 535.9L3409.0 534.2L3409.5 534.0L3410.0 537.1L3410.5 536.5L3411.0 541.0L3411.5 531.9L3412.0 531.8L3412.5 532.9L3413.0 537.7L3413.5 539.6L3414.0 536.2L3414.5 537.6L3415.0 537.9L3415.5 531.0L3416.0 533.4L3416.5 541.4L3417.0 534.1L3417.5 540.6L3418.0 535.6L3418.5 532.5L3419.0 529.9L3419.5 531.9L3420.0 532.7L3420.5 533.7L3421.0 533.4L3421.5 534.1L3422.0 532.9L3422.5 527.9L3423.0 529.9L3423.5 536.8L3424.0 526.6L3424.5 533.5L3425.0 530.3L3425.5 532.3L3426.0 527.9L3426.5 527.8L3427.0 528.9L3427.5 532.5L3428.0 526.0L3428.5 523.0L3429.0 522.0L3429.5 530.1L3430.0 523.7L3430.5 521.1L3431.0 525.3L3431.5 527.2L3432.0 524.0L3432.5 518.8L3433.0 520.7L3433.5 518.7L3434.0 515.5L3434.5 524.6L3435.0 518.8L3435.5 514.9L3436.0 522.3L3436.5 523.0L3437.0 520.9L3437.5 514.6L3438.0 513.6L3438.5 516.8L3439.0 517.1L3439.5 519.9L3440.0 520.6L3440.5 519.7L3441.0 513.4L3441.5 515.7L3442.0 510.5L3442.5 514.5L3443.0 509.5L3443.5 509.8L3444.0 509.7L3444.5 511.5L3445.0 511.5L3445.5 515.7L3446.0 508.9L3446.5 509.3L3447.0 515.3L3447.5 515.6L3448.0 516.2L3448.5 516.6L3449.0 516.2L3449.5 515.4L3450.0 517.7L3450.5 511.1L3451.0 512.8L3451.5 518.8L3452.0 513.4L3452.5 517.4L3453.0 514.9L3453.5 517.1L3454.0 521.7L3454.5 520.2L3455.0 518.2L3455.5 516.7L3456.0 522.7L3456.5 521.5L3457.0 519.5L3457.5 524.4L3458.0 523.0L3458.5 526.4L3459.0 523.4L3459.5 526.3L3460.0 522.9L3460.5 525.0L3461.0 526.7L3461.5 518.9L3462.0 523.3L3462.5 524.9L3463.0 519.1L3463.5 527.1L3464.0 526.3L3464.5 528.7L3465.0 522.5L3465.5 523.4L3466.0 527.9L3466.5 522.2L3467.0 526.4L3467.5 521.7L3468.0 520.4L3468.5 519.3L3469.0 518.2L3469.5 520.0L3470.0 516.7L3470.5 523.1L3471.0 524.2L3471.5 514.6L3472.0 513.6L3472.5 512.6L3473.0 521.9L3473.5 512.5L3474.0 518.5L3474.5 514.1L3475.0 512.7L3475.5 512.9L3476.0 517.4L3476.5 510.0L3477.0 518.7L3477.5 515.3L3478.0 511.5L3478.5 510.9L3479.0 515.4L3479.5 514.9L3480.0 511.3L3480.5 511.2L3481.0 512.4L3481.5 516.9L3482.0 512.7L3482.5 515.7L3483.0 513.4L3483.5 512.4L3484.0 511.4L3484.5 513.4L3485.0 511.2L3485.5 513.6L3486.0 507.7L3486.5 509.1L3487.0 515.0L3487.5 509.9L3488.0 514.8L3488.5 515.9L3489.0 512.2L3489.5 507.4L3490.0 514.7L3490.5 514.1L3491.0 510.6L3491.5 517.0L3492.0 513.5L3492.5 509.6L3493.0 510.2L3493.5 512.4L3494.0 516.9L3494.5 519.5L3495.0 512.6L3495.5 512.2L3496.0 519.0L3496.5 517.1L3497.0 517.8L3497.5 522.2L3498.0 523.5L3498.5 524.3L3499.0 522.6L3499.5 514.6L3500.0 516.4L3500.5 521.4L3501.0 525.6L3501.5 516.5L3502.0 521.4L3502.5 520.5L3503.0 520.8L3503.5 519.6L3504.0 519.9L3504.5 519.8L3505.0 518.6L3505.5 523.6L3506.0 522.7L3506.5 525.7L3507.0 525.1L3507.5 528.7L3508.0 522.2L3508.5 528.2L3509.0 522.9L3509.5 526.0L3510.0 527.6L3510.5 523.3L3511.0 523.8L3511.5 525.8L3512.0 520.2L3512.5 524.7L3513.0 519.9L3513.5 521.3L3514.0 525.6L3514.5 529.3L3515.0 529.5L3515.5 521.5L3516.0 520.1L3516.5 524.1L3517.0 523.2L3517.5 522.4L3518.0 526.5L3518.5 525.8L3519.0 524.1L3519.5 524.7L3520.0 524.1L3520.5 525.1L3521.0 527.7L3521.5 527.8L3522.0 528.1L3522.5 526.7L3523.0 518.5L3523.5 522.2L3524.0 525.7L3524.5 520.4L3525.0 523.7L3525.5 517.7L3526.0 519.3L3526.5 521.4L3527.0 517.9L3527.5 521.7L3528.0 519.7L3528.5 526.6L3529.0 520.9L3529.5 521.7L3530.0 526.4L3530.5 523.9L3531.0 518.7L3531.5 520.7L3532.0 525.1L3532.5 521.0L3533.0 521.7L3533.5 526.0L3534.0 524.9L3534.5 522.7L3535.0 526.0L3535.5 527.1L3536.0 521.0L3536.5 523.7L3537.0 524.3L3537.5 530.6L3538.0 521.9L3538.5 525.2L3539.0 523.8L3539.5 529.4L3540.0 530.8L3540.5 522.9L3541.0 531.8L3541.5 530.2L3542.0 525.2L3542.5 532.9L3543.0 526.4L3543.5 531.9L3544.0 524.4L3544.5 528.7L3545.0 529.3L3545.5 533.6L3546.0 533.1L3546.5 530.0L3547.0 524.7L3547.5 528.7L3548.0 528.1L3548.5 534.7L3549.0 531.2L3549.5 528.1L3550.0 527.5L3550.5 531.6L3551.0 524.2L3551.5 531.8L3552.0 530.0L3552.5 527.2L3553.0 529.9L3553.5 526.3L3554.0 523.4L3554.5 526.1L3555.0 521.9L3555.5 522.1L3556.0 525.6L3556.5 529.6L3557.0 522.7L3557.5 525.7L3558.0 530.7L3558.5 529.0L3559.0 529.7L3559.5 527.1L3560.0 526.1L3560.5 525.9L3561.0 526.0L3561.5 524.4L3562.0 523.2L3562.5 521.8L3563.0 519.9L3563.5 523.1L3564.0 527.3L3564.2 525.0"/>
</g>
</svg>
</body></html>
